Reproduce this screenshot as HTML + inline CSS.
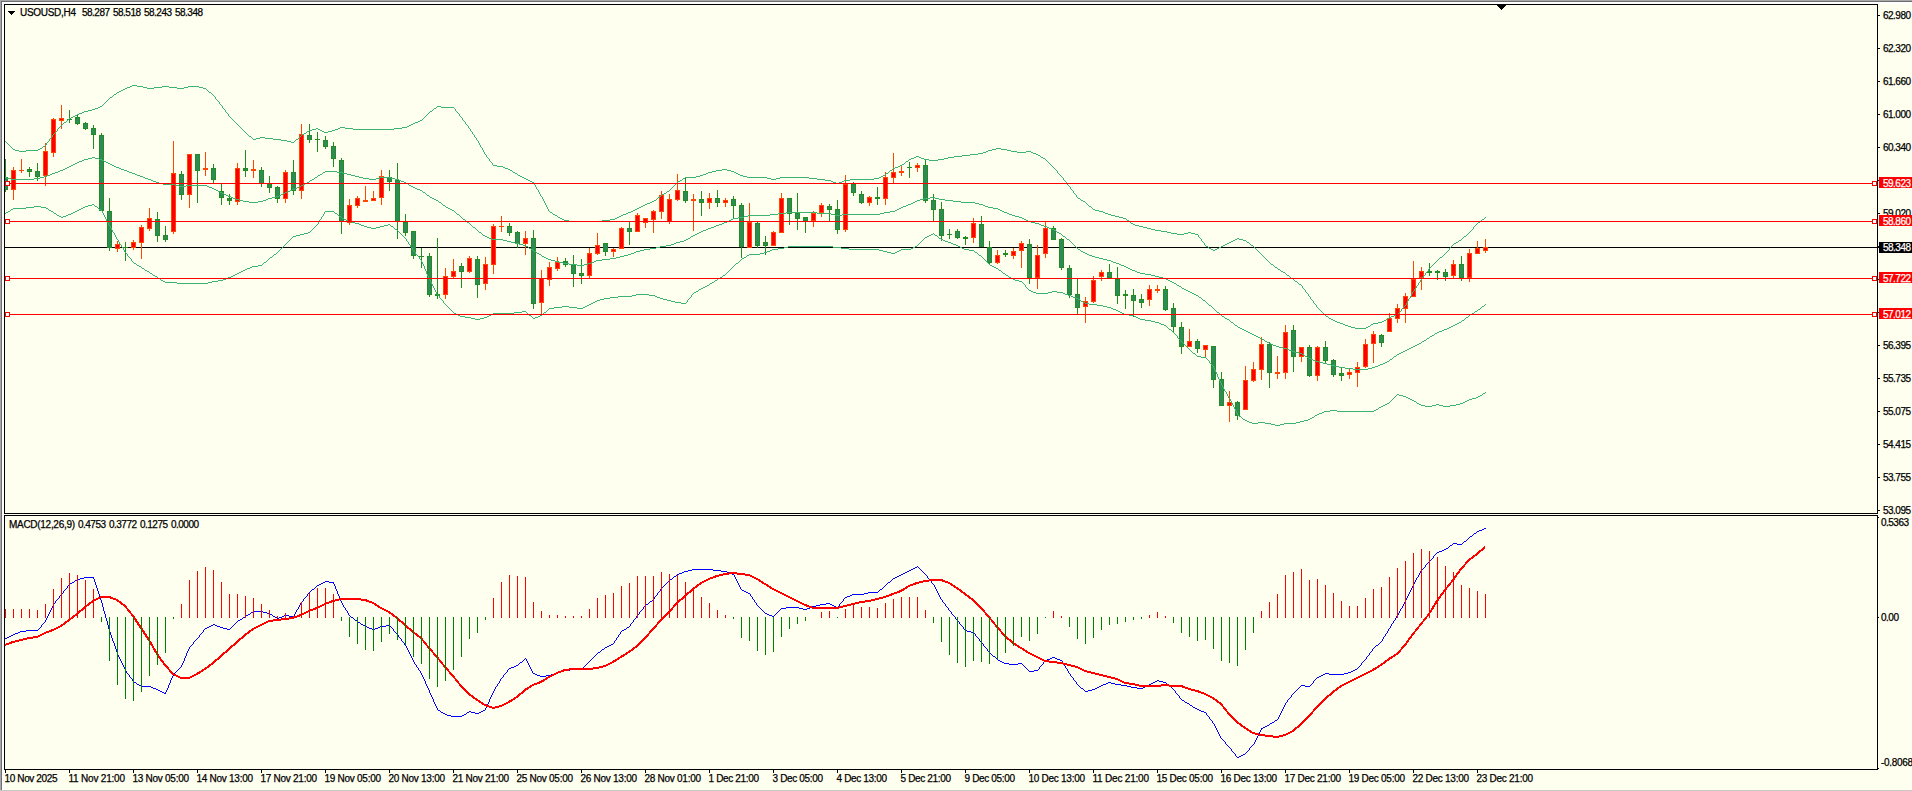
<!DOCTYPE html>
<html lang="en"><head><meta charset="utf-8"><title>USOUSD,H4</title>
<style>html,body{margin:0;padding:0;background:#FFFFF0;overflow:hidden}svg{display:block}text{font-family:"Liberation Sans",Arial,sans-serif;font-size:10px;fill:#000;stroke:#000;stroke-width:.25px}</style>
</head><body>
<svg width="1912" height="791" viewBox="0 0 1912 791">
<rect x="0" y="0" width="1912" height="791" fill="#FFFFF0"/>
<g shape-rendering="crispEdges">
<rect x="0" y="0" width="1912" height="1" fill="#A8A8A8"/>
<rect x="0" y="1" width="1912" height="1" fill="#6E6E6E"/>
<rect x="2" y="2" width="1910" height="2" fill="#FFFFFF"/>
<rect x="0" y="0" width="1" height="791" fill="#A8A8A8"/>
<rect x="1" y="1" width="1" height="789" fill="#6E6E6E"/>
<rect x="2" y="2" width="2" height="788" fill="#FFFFFF"/>
<rect x="0" y="790" width="1912" height="1" fill="#C8C8C8"/>
<rect x="4" y="4" width="1874" height="1" fill="#000"/>
<rect x="4" y="4" width="1" height="766" fill="#000"/>
<rect x="1877" y="4" width="1" height="766" fill="#000"/>
<rect x="4" y="513" width="1874" height="1" fill="#000"/>
<rect x="4" y="514" width="1874" height="1" fill="#FFFFF0"/>
<rect x="4" y="515" width="1874" height="1" fill="#000"/>
<rect x="4" y="769" width="1874" height="1" fill="#000"/>
</g>
<clipPath id="cm"><rect x="5" y="5" width="1872" height="508"/></clipPath>
<clipPath id="cs"><rect x="5" y="516" width="1872" height="253"/></clipPath>
<g clip-path="url(#cm)">
<rect x="5" y="247" width="1872" height="1" fill="#000" shape-rendering="crispEdges"/>
<g shape-rendering="crispEdges">
<rect x="5" y="159" width="1" height="33" fill="#228B22"/>
<rect x="3" y="177" width="5" height="13" fill="#228B22"/>
<rect x="4" y="178" width="3" height="11" fill="#2E8B57"/>
<rect x="13" y="167" width="1" height="33" fill="#FF4500"/>
<rect x="11" y="170" width="5" height="20" fill="#FF4500"/>
<rect x="12" y="171" width="3" height="18" fill="#FF0000"/>
<rect x="21" y="159" width="1" height="14" fill="#FF4500"/>
<rect x="19" y="170" width="5" height="1" fill="#FF4500"/>
<rect x="29" y="167" width="1" height="10" fill="#228B22"/>
<rect x="27" y="169" width="5" height="3" fill="#228B22"/>
<rect x="28" y="170" width="3" height="1" fill="#2E8B57"/>
<rect x="37" y="163" width="1" height="18" fill="#228B22"/>
<rect x="35" y="171" width="5" height="6" fill="#228B22"/>
<rect x="36" y="172" width="3" height="4" fill="#2E8B57"/>
<rect x="45" y="143" width="1" height="43" fill="#FF4500"/>
<rect x="43" y="151" width="5" height="25" fill="#FF4500"/>
<rect x="44" y="152" width="3" height="23" fill="#FF0000"/>
<rect x="53" y="118" width="1" height="39" fill="#FF4500"/>
<rect x="51" y="119" width="5" height="34" fill="#FF4500"/>
<rect x="52" y="120" width="3" height="32" fill="#FF0000"/>
<rect x="61" y="105" width="1" height="24" fill="#FF4500"/>
<rect x="59" y="118" width="5" height="3" fill="#FF4500"/>
<rect x="60" y="119" width="3" height="1" fill="#FF0000"/>
<rect x="69" y="110" width="1" height="13" fill="#228B22"/>
<rect x="67" y="119" width="5" height="1" fill="#228B22"/>
<rect x="77" y="114" width="1" height="11" fill="#228B22"/>
<rect x="75" y="117" width="5" height="7" fill="#228B22"/>
<rect x="76" y="118" width="3" height="5" fill="#2E8B57"/>
<rect x="85" y="122" width="1" height="8" fill="#228B22"/>
<rect x="83" y="123" width="5" height="6" fill="#228B22"/>
<rect x="84" y="124" width="3" height="4" fill="#2E8B57"/>
<rect x="93" y="125" width="1" height="24" fill="#228B22"/>
<rect x="91" y="128" width="5" height="7" fill="#228B22"/>
<rect x="92" y="129" width="3" height="5" fill="#2E8B57"/>
<rect x="101" y="133" width="1" height="78" fill="#228B22"/>
<rect x="99" y="135" width="5" height="76" fill="#228B22"/>
<rect x="100" y="136" width="3" height="74" fill="#2E8B57"/>
<rect x="109" y="198" width="1" height="53" fill="#228B22"/>
<rect x="107" y="211" width="5" height="37" fill="#228B22"/>
<rect x="108" y="212" width="3" height="35" fill="#2E8B57"/>
<rect x="117" y="241" width="1" height="11" fill="#FF4500"/>
<rect x="115" y="244" width="5" height="5" fill="#FF4500"/>
<rect x="116" y="245" width="3" height="3" fill="#FF0000"/>
<rect x="125" y="242" width="1" height="19" fill="#228B22"/>
<rect x="123" y="247" width="5" height="1" fill="#228B22"/>
<rect x="133" y="240" width="1" height="10" fill="#FF4500"/>
<rect x="131" y="242" width="5" height="6" fill="#FF4500"/>
<rect x="132" y="243" width="3" height="4" fill="#FF0000"/>
<rect x="141" y="225" width="1" height="34" fill="#FF4500"/>
<rect x="139" y="227" width="5" height="16" fill="#FF4500"/>
<rect x="140" y="228" width="3" height="14" fill="#FF0000"/>
<rect x="149" y="208" width="1" height="23" fill="#FF4500"/>
<rect x="147" y="218" width="5" height="11" fill="#FF4500"/>
<rect x="148" y="219" width="3" height="9" fill="#FF0000"/>
<rect x="157" y="212" width="1" height="30" fill="#228B22"/>
<rect x="155" y="219" width="5" height="17" fill="#228B22"/>
<rect x="156" y="220" width="3" height="15" fill="#2E8B57"/>
<rect x="165" y="226" width="1" height="16" fill="#228B22"/>
<rect x="163" y="235" width="5" height="5" fill="#228B22"/>
<rect x="164" y="236" width="3" height="3" fill="#2E8B57"/>
<rect x="173" y="141" width="1" height="93" fill="#FF4500"/>
<rect x="171" y="173" width="5" height="59" fill="#FF4500"/>
<rect x="172" y="174" width="3" height="57" fill="#FF0000"/>
<rect x="181" y="171" width="1" height="29" fill="#228B22"/>
<rect x="179" y="174" width="5" height="21" fill="#228B22"/>
<rect x="180" y="175" width="3" height="19" fill="#2E8B57"/>
<rect x="189" y="154" width="1" height="54" fill="#FF4500"/>
<rect x="187" y="154" width="5" height="41" fill="#FF4500"/>
<rect x="188" y="155" width="3" height="39" fill="#FF0000"/>
<rect x="197" y="154" width="1" height="49" fill="#228B22"/>
<rect x="195" y="154" width="5" height="17" fill="#228B22"/>
<rect x="196" y="155" width="3" height="15" fill="#2E8B57"/>
<rect x="205" y="152" width="1" height="24" fill="#FF4500"/>
<rect x="203" y="168" width="5" height="2" fill="#FF4500"/>
<rect x="213" y="164" width="1" height="19" fill="#228B22"/>
<rect x="211" y="168" width="5" height="12" fill="#228B22"/>
<rect x="212" y="169" width="3" height="10" fill="#2E8B57"/>
<rect x="221" y="184" width="1" height="21" fill="#228B22"/>
<rect x="219" y="191" width="5" height="7" fill="#228B22"/>
<rect x="220" y="192" width="3" height="5" fill="#2E8B57"/>
<rect x="229" y="194" width="1" height="11" fill="#228B22"/>
<rect x="227" y="198" width="5" height="3" fill="#228B22"/>
<rect x="228" y="199" width="3" height="1" fill="#2E8B57"/>
<rect x="237" y="163" width="1" height="42" fill="#FF4500"/>
<rect x="235" y="168" width="5" height="34" fill="#FF4500"/>
<rect x="236" y="169" width="3" height="32" fill="#FF0000"/>
<rect x="245" y="150" width="1" height="27" fill="#228B22"/>
<rect x="243" y="168" width="5" height="3" fill="#228B22"/>
<rect x="244" y="169" width="3" height="1" fill="#2E8B57"/>
<rect x="253" y="160" width="1" height="18" fill="#FF4500"/>
<rect x="251" y="169" width="5" height="2" fill="#FF4500"/>
<rect x="261" y="167" width="1" height="20" fill="#228B22"/>
<rect x="259" y="170" width="5" height="14" fill="#228B22"/>
<rect x="260" y="171" width="3" height="12" fill="#2E8B57"/>
<rect x="269" y="176" width="1" height="17" fill="#228B22"/>
<rect x="267" y="184" width="5" height="4" fill="#228B22"/>
<rect x="268" y="185" width="3" height="2" fill="#2E8B57"/>
<rect x="277" y="186" width="1" height="17" fill="#228B22"/>
<rect x="275" y="187" width="5" height="12" fill="#228B22"/>
<rect x="276" y="188" width="3" height="10" fill="#2E8B57"/>
<rect x="285" y="170" width="1" height="33" fill="#FF4500"/>
<rect x="283" y="172" width="5" height="27" fill="#FF4500"/>
<rect x="284" y="173" width="3" height="25" fill="#FF0000"/>
<rect x="293" y="160" width="1" height="35" fill="#228B22"/>
<rect x="291" y="172" width="5" height="19" fill="#228B22"/>
<rect x="292" y="173" width="3" height="17" fill="#2E8B57"/>
<rect x="301" y="124" width="1" height="75" fill="#FF4500"/>
<rect x="299" y="134" width="5" height="57" fill="#FF4500"/>
<rect x="300" y="135" width="3" height="55" fill="#FF0000"/>
<rect x="309" y="124" width="1" height="19" fill="#228B22"/>
<rect x="307" y="135" width="5" height="5" fill="#228B22"/>
<rect x="308" y="136" width="3" height="3" fill="#2E8B57"/>
<rect x="317" y="132" width="1" height="20" fill="#228B22"/>
<rect x="315" y="139" width="5" height="1" fill="#228B22"/>
<rect x="325" y="136" width="1" height="13" fill="#228B22"/>
<rect x="323" y="140" width="5" height="7" fill="#228B22"/>
<rect x="324" y="141" width="3" height="5" fill="#2E8B57"/>
<rect x="333" y="142" width="1" height="25" fill="#228B22"/>
<rect x="331" y="146" width="5" height="13" fill="#228B22"/>
<rect x="332" y="147" width="3" height="11" fill="#2E8B57"/>
<rect x="341" y="158" width="1" height="76" fill="#228B22"/>
<rect x="339" y="160" width="5" height="62" fill="#228B22"/>
<rect x="340" y="161" width="3" height="60" fill="#2E8B57"/>
<rect x="349" y="199" width="1" height="26" fill="#FF4500"/>
<rect x="347" y="205" width="5" height="18" fill="#FF4500"/>
<rect x="348" y="206" width="3" height="16" fill="#FF0000"/>
<rect x="357" y="196" width="1" height="12" fill="#FF4500"/>
<rect x="355" y="198" width="5" height="8" fill="#FF4500"/>
<rect x="356" y="199" width="3" height="6" fill="#FF0000"/>
<rect x="365" y="186" width="1" height="16" fill="#FF4500"/>
<rect x="363" y="200" width="5" height="2" fill="#FF4500"/>
<rect x="373" y="191" width="1" height="10" fill="#FF4500"/>
<rect x="371" y="198" width="5" height="3" fill="#FF4500"/>
<rect x="372" y="199" width="3" height="1" fill="#FF0000"/>
<rect x="381" y="170" width="1" height="35" fill="#FF4500"/>
<rect x="379" y="176" width="5" height="22" fill="#FF4500"/>
<rect x="380" y="177" width="3" height="20" fill="#FF0000"/>
<rect x="389" y="170" width="1" height="21" fill="#228B22"/>
<rect x="387" y="177" width="5" height="5" fill="#228B22"/>
<rect x="388" y="178" width="3" height="3" fill="#2E8B57"/>
<rect x="397" y="163" width="1" height="76" fill="#228B22"/>
<rect x="395" y="180" width="5" height="42" fill="#228B22"/>
<rect x="396" y="181" width="3" height="40" fill="#2E8B57"/>
<rect x="405" y="214" width="1" height="22" fill="#228B22"/>
<rect x="403" y="222" width="5" height="11" fill="#228B22"/>
<rect x="404" y="223" width="3" height="9" fill="#2E8B57"/>
<rect x="413" y="231" width="1" height="28" fill="#228B22"/>
<rect x="411" y="231" width="5" height="25" fill="#228B22"/>
<rect x="412" y="232" width="3" height="23" fill="#2E8B57"/>
<rect x="421" y="248" width="1" height="20" fill="#228B22"/>
<rect x="419" y="256" width="5" height="1" fill="#228B22"/>
<rect x="429" y="253" width="1" height="44" fill="#228B22"/>
<rect x="427" y="256" width="5" height="39" fill="#228B22"/>
<rect x="428" y="257" width="3" height="37" fill="#2E8B57"/>
<rect x="437" y="238" width="1" height="61" fill="#228B22"/>
<rect x="435" y="294" width="5" height="2" fill="#228B22"/>
<rect x="445" y="268" width="1" height="31" fill="#FF4500"/>
<rect x="443" y="276" width="5" height="19" fill="#FF4500"/>
<rect x="444" y="277" width="3" height="17" fill="#FF0000"/>
<rect x="453" y="259" width="1" height="19" fill="#FF4500"/>
<rect x="451" y="271" width="5" height="6" fill="#FF4500"/>
<rect x="452" y="272" width="3" height="4" fill="#FF0000"/>
<rect x="461" y="263" width="1" height="25" fill="#228B22"/>
<rect x="459" y="266" width="5" height="6" fill="#228B22"/>
<rect x="460" y="267" width="3" height="4" fill="#2E8B57"/>
<rect x="469" y="256" width="1" height="17" fill="#FF4500"/>
<rect x="467" y="258" width="5" height="14" fill="#FF4500"/>
<rect x="468" y="259" width="3" height="12" fill="#FF0000"/>
<rect x="477" y="256" width="1" height="42" fill="#228B22"/>
<rect x="475" y="259" width="5" height="26" fill="#228B22"/>
<rect x="476" y="260" width="3" height="24" fill="#2E8B57"/>
<rect x="485" y="257" width="1" height="33" fill="#FF4500"/>
<rect x="483" y="264" width="5" height="20" fill="#FF4500"/>
<rect x="484" y="265" width="3" height="18" fill="#FF0000"/>
<rect x="493" y="224" width="1" height="50" fill="#FF4500"/>
<rect x="491" y="226" width="5" height="39" fill="#FF4500"/>
<rect x="492" y="227" width="3" height="37" fill="#FF0000"/>
<rect x="501" y="216" width="1" height="16" fill="#FF4500"/>
<rect x="499" y="226" width="5" height="1" fill="#FF4500"/>
<rect x="509" y="223" width="1" height="13" fill="#228B22"/>
<rect x="507" y="226" width="5" height="7" fill="#228B22"/>
<rect x="508" y="227" width="3" height="5" fill="#2E8B57"/>
<rect x="517" y="231" width="1" height="17" fill="#228B22"/>
<rect x="515" y="232" width="5" height="12" fill="#228B22"/>
<rect x="516" y="233" width="3" height="10" fill="#2E8B57"/>
<rect x="525" y="231" width="1" height="24" fill="#FF4500"/>
<rect x="523" y="238" width="5" height="6" fill="#FF4500"/>
<rect x="524" y="239" width="3" height="4" fill="#FF0000"/>
<rect x="533" y="230" width="1" height="79" fill="#228B22"/>
<rect x="531" y="238" width="5" height="66" fill="#228B22"/>
<rect x="532" y="239" width="3" height="64" fill="#2E8B57"/>
<rect x="541" y="270" width="1" height="44" fill="#FF4500"/>
<rect x="539" y="278" width="5" height="25" fill="#FF4500"/>
<rect x="540" y="279" width="3" height="23" fill="#FF0000"/>
<rect x="549" y="262" width="1" height="24" fill="#FF4500"/>
<rect x="547" y="267" width="5" height="13" fill="#FF4500"/>
<rect x="548" y="268" width="3" height="11" fill="#FF0000"/>
<rect x="557" y="257" width="1" height="14" fill="#FF4500"/>
<rect x="555" y="262" width="5" height="7" fill="#FF4500"/>
<rect x="556" y="263" width="3" height="5" fill="#FF0000"/>
<rect x="565" y="258" width="1" height="9" fill="#228B22"/>
<rect x="563" y="261" width="5" height="4" fill="#228B22"/>
<rect x="564" y="262" width="3" height="2" fill="#2E8B57"/>
<rect x="573" y="255" width="1" height="32" fill="#228B22"/>
<rect x="571" y="265" width="5" height="9" fill="#228B22"/>
<rect x="572" y="266" width="3" height="7" fill="#2E8B57"/>
<rect x="581" y="259" width="1" height="25" fill="#228B22"/>
<rect x="579" y="273" width="5" height="3" fill="#228B22"/>
<rect x="580" y="274" width="3" height="1" fill="#2E8B57"/>
<rect x="589" y="248" width="1" height="30" fill="#FF4500"/>
<rect x="587" y="253" width="5" height="23" fill="#FF4500"/>
<rect x="588" y="254" width="3" height="21" fill="#FF0000"/>
<rect x="597" y="233" width="1" height="22" fill="#FF4500"/>
<rect x="595" y="245" width="5" height="9" fill="#FF4500"/>
<rect x="596" y="246" width="3" height="7" fill="#FF0000"/>
<rect x="605" y="243" width="1" height="13" fill="#228B22"/>
<rect x="603" y="243" width="5" height="9" fill="#228B22"/>
<rect x="604" y="244" width="3" height="7" fill="#2E8B57"/>
<rect x="613" y="248" width="1" height="9" fill="#FF4500"/>
<rect x="611" y="249" width="5" height="3" fill="#FF4500"/>
<rect x="612" y="250" width="3" height="1" fill="#FF0000"/>
<rect x="621" y="227" width="1" height="22" fill="#FF4500"/>
<rect x="619" y="228" width="5" height="21" fill="#FF4500"/>
<rect x="620" y="229" width="3" height="19" fill="#FF0000"/>
<rect x="629" y="222" width="1" height="23" fill="#228B22"/>
<rect x="627" y="228" width="5" height="4" fill="#228B22"/>
<rect x="628" y="229" width="3" height="2" fill="#2E8B57"/>
<rect x="637" y="213" width="1" height="19" fill="#FF4500"/>
<rect x="635" y="215" width="5" height="17" fill="#FF4500"/>
<rect x="636" y="216" width="3" height="15" fill="#FF0000"/>
<rect x="645" y="218" width="1" height="10" fill="#FF4500"/>
<rect x="643" y="218" width="5" height="5" fill="#FF4500"/>
<rect x="644" y="219" width="3" height="3" fill="#FF0000"/>
<rect x="653" y="210" width="1" height="23" fill="#FF4500"/>
<rect x="651" y="211" width="5" height="9" fill="#FF4500"/>
<rect x="652" y="212" width="3" height="7" fill="#FF0000"/>
<rect x="661" y="191" width="1" height="28" fill="#FF4500"/>
<rect x="659" y="195" width="5" height="17" fill="#FF4500"/>
<rect x="660" y="196" width="3" height="15" fill="#FF0000"/>
<rect x="669" y="194" width="1" height="30" fill="#FF4500"/>
<rect x="667" y="199" width="5" height="23" fill="#FF4500"/>
<rect x="668" y="200" width="3" height="21" fill="#FF0000"/>
<rect x="677" y="174" width="1" height="27" fill="#FF4500"/>
<rect x="675" y="190" width="5" height="10" fill="#FF4500"/>
<rect x="676" y="191" width="3" height="8" fill="#FF0000"/>
<rect x="685" y="178" width="1" height="25" fill="#228B22"/>
<rect x="683" y="191" width="5" height="10" fill="#228B22"/>
<rect x="684" y="192" width="3" height="8" fill="#2E8B57"/>
<rect x="693" y="194" width="1" height="37" fill="#FF4500"/>
<rect x="691" y="199" width="5" height="2" fill="#FF4500"/>
<rect x="701" y="191" width="1" height="25" fill="#228B22"/>
<rect x="699" y="199" width="5" height="4" fill="#228B22"/>
<rect x="700" y="200" width="3" height="2" fill="#2E8B57"/>
<rect x="709" y="193" width="1" height="16" fill="#FF4500"/>
<rect x="707" y="198" width="5" height="5" fill="#FF4500"/>
<rect x="708" y="199" width="3" height="3" fill="#FF0000"/>
<rect x="717" y="190" width="1" height="17" fill="#228B22"/>
<rect x="715" y="198" width="5" height="5" fill="#228B22"/>
<rect x="716" y="199" width="3" height="3" fill="#2E8B57"/>
<rect x="725" y="198" width="1" height="9" fill="#FF4500"/>
<rect x="723" y="200" width="5" height="3" fill="#FF4500"/>
<rect x="724" y="201" width="3" height="1" fill="#FF0000"/>
<rect x="733" y="196" width="1" height="22" fill="#228B22"/>
<rect x="731" y="199" width="5" height="7" fill="#228B22"/>
<rect x="732" y="200" width="3" height="5" fill="#2E8B57"/>
<rect x="741" y="203" width="1" height="55" fill="#228B22"/>
<rect x="739" y="205" width="5" height="42" fill="#228B22"/>
<rect x="740" y="206" width="3" height="40" fill="#2E8B57"/>
<rect x="749" y="203" width="1" height="45" fill="#FF4500"/>
<rect x="747" y="222" width="5" height="26" fill="#FF4500"/>
<rect x="748" y="223" width="3" height="24" fill="#FF0000"/>
<rect x="757" y="222" width="1" height="26" fill="#228B22"/>
<rect x="755" y="223" width="5" height="23" fill="#228B22"/>
<rect x="756" y="224" width="3" height="21" fill="#2E8B57"/>
<rect x="765" y="236" width="1" height="19" fill="#228B22"/>
<rect x="763" y="242" width="5" height="4" fill="#228B22"/>
<rect x="764" y="243" width="3" height="2" fill="#2E8B57"/>
<rect x="773" y="231" width="1" height="15" fill="#FF4500"/>
<rect x="771" y="232" width="5" height="14" fill="#FF4500"/>
<rect x="772" y="233" width="3" height="12" fill="#FF0000"/>
<rect x="781" y="193" width="1" height="40" fill="#FF4500"/>
<rect x="779" y="198" width="5" height="35" fill="#FF4500"/>
<rect x="780" y="199" width="3" height="33" fill="#FF0000"/>
<rect x="789" y="198" width="1" height="27" fill="#228B22"/>
<rect x="787" y="198" width="5" height="16" fill="#228B22"/>
<rect x="788" y="199" width="3" height="14" fill="#2E8B57"/>
<rect x="797" y="193" width="1" height="37" fill="#228B22"/>
<rect x="795" y="213" width="5" height="6" fill="#228B22"/>
<rect x="796" y="214" width="3" height="4" fill="#2E8B57"/>
<rect x="805" y="217" width="1" height="16" fill="#228B22"/>
<rect x="803" y="217" width="5" height="4" fill="#228B22"/>
<rect x="804" y="218" width="3" height="2" fill="#2E8B57"/>
<rect x="813" y="211" width="1" height="16" fill="#FF4500"/>
<rect x="811" y="213" width="5" height="8" fill="#FF4500"/>
<rect x="812" y="214" width="3" height="6" fill="#FF0000"/>
<rect x="821" y="203" width="1" height="14" fill="#FF4500"/>
<rect x="819" y="205" width="5" height="8" fill="#FF4500"/>
<rect x="820" y="206" width="3" height="6" fill="#FF0000"/>
<rect x="829" y="204" width="1" height="17" fill="#228B22"/>
<rect x="827" y="206" width="5" height="4" fill="#228B22"/>
<rect x="828" y="207" width="3" height="2" fill="#2E8B57"/>
<rect x="837" y="200" width="1" height="34" fill="#228B22"/>
<rect x="835" y="209" width="5" height="21" fill="#228B22"/>
<rect x="836" y="210" width="3" height="19" fill="#2E8B57"/>
<rect x="845" y="175" width="1" height="57" fill="#FF4500"/>
<rect x="843" y="184" width="5" height="46" fill="#FF4500"/>
<rect x="844" y="185" width="3" height="44" fill="#FF0000"/>
<rect x="853" y="182" width="1" height="14" fill="#228B22"/>
<rect x="851" y="184" width="5" height="9" fill="#228B22"/>
<rect x="852" y="185" width="3" height="7" fill="#2E8B57"/>
<rect x="861" y="191" width="1" height="13" fill="#228B22"/>
<rect x="859" y="194" width="5" height="9" fill="#228B22"/>
<rect x="860" y="195" width="3" height="7" fill="#2E8B57"/>
<rect x="869" y="196" width="1" height="10" fill="#FF4500"/>
<rect x="867" y="197" width="5" height="6" fill="#FF4500"/>
<rect x="868" y="198" width="3" height="4" fill="#FF0000"/>
<rect x="877" y="187" width="1" height="18" fill="#228B22"/>
<rect x="875" y="197" width="5" height="2" fill="#228B22"/>
<rect x="885" y="172" width="1" height="33" fill="#FF4500"/>
<rect x="883" y="177" width="5" height="22" fill="#FF4500"/>
<rect x="884" y="178" width="3" height="20" fill="#FF0000"/>
<rect x="893" y="153" width="1" height="30" fill="#FF4500"/>
<rect x="891" y="172" width="5" height="6" fill="#FF4500"/>
<rect x="892" y="173" width="3" height="4" fill="#FF0000"/>
<rect x="901" y="166" width="1" height="10" fill="#FF4500"/>
<rect x="899" y="171" width="5" height="2" fill="#FF4500"/>
<rect x="909" y="162" width="1" height="16" fill="#228B22"/>
<rect x="907" y="167" width="5" height="1" fill="#228B22"/>
<rect x="917" y="163" width="1" height="9" fill="#FF4500"/>
<rect x="915" y="165" width="5" height="3" fill="#FF4500"/>
<rect x="916" y="166" width="3" height="1" fill="#FF0000"/>
<rect x="925" y="159" width="1" height="44" fill="#228B22"/>
<rect x="923" y="165" width="5" height="36" fill="#228B22"/>
<rect x="924" y="166" width="3" height="34" fill="#2E8B57"/>
<rect x="933" y="194" width="1" height="27" fill="#228B22"/>
<rect x="931" y="200" width="5" height="10" fill="#228B22"/>
<rect x="932" y="201" width="3" height="8" fill="#2E8B57"/>
<rect x="941" y="202" width="1" height="39" fill="#228B22"/>
<rect x="939" y="209" width="5" height="27" fill="#228B22"/>
<rect x="940" y="210" width="3" height="25" fill="#2E8B57"/>
<rect x="949" y="229" width="1" height="10" fill="#228B22"/>
<rect x="947" y="234" width="5" height="1" fill="#228B22"/>
<rect x="957" y="229" width="1" height="10" fill="#228B22"/>
<rect x="955" y="231" width="5" height="7" fill="#228B22"/>
<rect x="956" y="232" width="3" height="5" fill="#2E8B57"/>
<rect x="965" y="236" width="1" height="9" fill="#228B22"/>
<rect x="963" y="237" width="5" height="2" fill="#228B22"/>
<rect x="973" y="218" width="1" height="25" fill="#FF4500"/>
<rect x="971" y="223" width="5" height="15" fill="#FF4500"/>
<rect x="972" y="224" width="3" height="13" fill="#FF0000"/>
<rect x="981" y="216" width="1" height="31" fill="#228B22"/>
<rect x="979" y="224" width="5" height="23" fill="#228B22"/>
<rect x="980" y="225" width="3" height="21" fill="#2E8B57"/>
<rect x="989" y="241" width="1" height="24" fill="#228B22"/>
<rect x="987" y="247" width="5" height="16" fill="#228B22"/>
<rect x="988" y="248" width="3" height="14" fill="#2E8B57"/>
<rect x="997" y="250" width="1" height="14" fill="#FF4500"/>
<rect x="995" y="255" width="5" height="8" fill="#FF4500"/>
<rect x="996" y="256" width="3" height="6" fill="#FF0000"/>
<rect x="1005" y="250" width="1" height="7" fill="#228B22"/>
<rect x="1003" y="253" width="5" height="2" fill="#228B22"/>
<rect x="1013" y="248" width="1" height="11" fill="#FF4500"/>
<rect x="1011" y="251" width="5" height="5" fill="#FF4500"/>
<rect x="1012" y="252" width="3" height="3" fill="#FF0000"/>
<rect x="1021" y="241" width="1" height="27" fill="#FF4500"/>
<rect x="1019" y="243" width="5" height="8" fill="#FF4500"/>
<rect x="1020" y="244" width="3" height="6" fill="#FF0000"/>
<rect x="1029" y="239" width="1" height="45" fill="#228B22"/>
<rect x="1027" y="244" width="5" height="34" fill="#228B22"/>
<rect x="1028" y="245" width="3" height="32" fill="#2E8B57"/>
<rect x="1037" y="245" width="1" height="44" fill="#FF4500"/>
<rect x="1035" y="255" width="5" height="23" fill="#FF4500"/>
<rect x="1036" y="256" width="3" height="21" fill="#FF0000"/>
<rect x="1045" y="222" width="1" height="36" fill="#FF4500"/>
<rect x="1043" y="228" width="5" height="26" fill="#FF4500"/>
<rect x="1044" y="229" width="3" height="24" fill="#FF0000"/>
<rect x="1053" y="226" width="1" height="14" fill="#228B22"/>
<rect x="1051" y="228" width="5" height="12" fill="#228B22"/>
<rect x="1052" y="229" width="3" height="10" fill="#2E8B57"/>
<rect x="1061" y="238" width="1" height="32" fill="#228B22"/>
<rect x="1059" y="239" width="5" height="29" fill="#228B22"/>
<rect x="1060" y="240" width="3" height="27" fill="#2E8B57"/>
<rect x="1069" y="265" width="1" height="33" fill="#228B22"/>
<rect x="1067" y="268" width="5" height="27" fill="#228B22"/>
<rect x="1068" y="269" width="3" height="25" fill="#2E8B57"/>
<rect x="1077" y="279" width="1" height="35" fill="#228B22"/>
<rect x="1075" y="294" width="5" height="14" fill="#228B22"/>
<rect x="1076" y="295" width="3" height="12" fill="#2E8B57"/>
<rect x="1085" y="297" width="1" height="26" fill="#FF4500"/>
<rect x="1083" y="301" width="5" height="6" fill="#FF4500"/>
<rect x="1084" y="302" width="3" height="4" fill="#FF0000"/>
<rect x="1093" y="276" width="1" height="27" fill="#FF4500"/>
<rect x="1091" y="280" width="5" height="22" fill="#FF4500"/>
<rect x="1092" y="281" width="3" height="20" fill="#FF0000"/>
<rect x="1101" y="270" width="1" height="11" fill="#FF4500"/>
<rect x="1099" y="272" width="5" height="5" fill="#FF4500"/>
<rect x="1100" y="273" width="3" height="3" fill="#FF0000"/>
<rect x="1109" y="264" width="1" height="14" fill="#228B22"/>
<rect x="1107" y="272" width="5" height="6" fill="#228B22"/>
<rect x="1108" y="273" width="3" height="4" fill="#2E8B57"/>
<rect x="1117" y="267" width="1" height="37" fill="#228B22"/>
<rect x="1115" y="279" width="5" height="17" fill="#228B22"/>
<rect x="1116" y="280" width="3" height="15" fill="#2E8B57"/>
<rect x="1125" y="290" width="1" height="19" fill="#228B22"/>
<rect x="1123" y="294" width="5" height="2" fill="#228B22"/>
<rect x="1133" y="289" width="1" height="28" fill="#228B22"/>
<rect x="1131" y="295" width="5" height="6" fill="#228B22"/>
<rect x="1132" y="296" width="3" height="4" fill="#2E8B57"/>
<rect x="1141" y="294" width="1" height="14" fill="#228B22"/>
<rect x="1139" y="299" width="5" height="4" fill="#228B22"/>
<rect x="1140" y="300" width="3" height="2" fill="#2E8B57"/>
<rect x="1149" y="285" width="1" height="21" fill="#FF4500"/>
<rect x="1147" y="289" width="5" height="11" fill="#FF4500"/>
<rect x="1148" y="290" width="3" height="9" fill="#FF0000"/>
<rect x="1157" y="285" width="1" height="8" fill="#FF4500"/>
<rect x="1155" y="289" width="5" height="2" fill="#FF4500"/>
<rect x="1165" y="286" width="1" height="25" fill="#228B22"/>
<rect x="1163" y="289" width="5" height="21" fill="#228B22"/>
<rect x="1164" y="290" width="3" height="19" fill="#2E8B57"/>
<rect x="1173" y="303" width="1" height="29" fill="#228B22"/>
<rect x="1171" y="308" width="5" height="19" fill="#228B22"/>
<rect x="1172" y="309" width="3" height="17" fill="#2E8B57"/>
<rect x="1181" y="322" width="1" height="32" fill="#228B22"/>
<rect x="1179" y="327" width="5" height="20" fill="#228B22"/>
<rect x="1180" y="328" width="3" height="18" fill="#2E8B57"/>
<rect x="1189" y="329" width="1" height="18" fill="#FF4500"/>
<rect x="1187" y="341" width="5" height="6" fill="#FF4500"/>
<rect x="1188" y="342" width="3" height="4" fill="#FF0000"/>
<rect x="1197" y="339" width="1" height="14" fill="#228B22"/>
<rect x="1195" y="341" width="5" height="8" fill="#228B22"/>
<rect x="1196" y="342" width="3" height="6" fill="#2E8B57"/>
<rect x="1205" y="345" width="1" height="12" fill="#FF4500"/>
<rect x="1203" y="345" width="5" height="5" fill="#FF4500"/>
<rect x="1204" y="346" width="3" height="3" fill="#FF0000"/>
<rect x="1213" y="346" width="1" height="42" fill="#228B22"/>
<rect x="1211" y="346" width="5" height="34" fill="#228B22"/>
<rect x="1212" y="347" width="3" height="32" fill="#2E8B57"/>
<rect x="1221" y="372" width="1" height="34" fill="#228B22"/>
<rect x="1219" y="379" width="5" height="27" fill="#228B22"/>
<rect x="1220" y="380" width="3" height="25" fill="#2E8B57"/>
<rect x="1229" y="391" width="1" height="31" fill="#FF4500"/>
<rect x="1227" y="402" width="5" height="4" fill="#FF4500"/>
<rect x="1228" y="403" width="3" height="2" fill="#FF0000"/>
<rect x="1237" y="401" width="1" height="19" fill="#228B22"/>
<rect x="1235" y="402" width="5" height="14" fill="#228B22"/>
<rect x="1236" y="403" width="3" height="12" fill="#2E8B57"/>
<rect x="1245" y="366" width="1" height="44" fill="#FF4500"/>
<rect x="1243" y="380" width="5" height="30" fill="#FF4500"/>
<rect x="1244" y="381" width="3" height="28" fill="#FF0000"/>
<rect x="1253" y="362" width="1" height="20" fill="#FF4500"/>
<rect x="1251" y="369" width="5" height="12" fill="#FF4500"/>
<rect x="1252" y="370" width="3" height="10" fill="#FF0000"/>
<rect x="1261" y="337" width="1" height="43" fill="#FF4500"/>
<rect x="1259" y="344" width="5" height="26" fill="#FF4500"/>
<rect x="1260" y="345" width="3" height="24" fill="#FF0000"/>
<rect x="1269" y="342" width="1" height="46" fill="#228B22"/>
<rect x="1267" y="344" width="5" height="29" fill="#228B22"/>
<rect x="1268" y="345" width="3" height="27" fill="#2E8B57"/>
<rect x="1277" y="356" width="1" height="23" fill="#FF4500"/>
<rect x="1275" y="372" width="5" height="2" fill="#FF4500"/>
<rect x="1285" y="325" width="1" height="54" fill="#FF4500"/>
<rect x="1283" y="332" width="5" height="41" fill="#FF4500"/>
<rect x="1284" y="333" width="3" height="39" fill="#FF0000"/>
<rect x="1293" y="325" width="1" height="47" fill="#228B22"/>
<rect x="1291" y="330" width="5" height="27" fill="#228B22"/>
<rect x="1292" y="331" width="3" height="25" fill="#2E8B57"/>
<rect x="1301" y="347" width="1" height="15" fill="#FF4500"/>
<rect x="1299" y="347" width="5" height="10" fill="#FF4500"/>
<rect x="1300" y="348" width="3" height="8" fill="#FF0000"/>
<rect x="1309" y="345" width="1" height="32" fill="#228B22"/>
<rect x="1307" y="347" width="5" height="29" fill="#228B22"/>
<rect x="1308" y="348" width="3" height="27" fill="#2E8B57"/>
<rect x="1317" y="346" width="1" height="35" fill="#FF4500"/>
<rect x="1315" y="347" width="5" height="29" fill="#FF4500"/>
<rect x="1316" y="348" width="3" height="27" fill="#FF0000"/>
<rect x="1325" y="341" width="1" height="22" fill="#228B22"/>
<rect x="1323" y="347" width="5" height="14" fill="#228B22"/>
<rect x="1324" y="348" width="3" height="12" fill="#2E8B57"/>
<rect x="1333" y="359" width="1" height="18" fill="#228B22"/>
<rect x="1331" y="360" width="5" height="15" fill="#228B22"/>
<rect x="1332" y="361" width="3" height="13" fill="#2E8B57"/>
<rect x="1341" y="368" width="1" height="13" fill="#228B22"/>
<rect x="1339" y="373" width="5" height="3" fill="#228B22"/>
<rect x="1340" y="374" width="3" height="1" fill="#2E8B57"/>
<rect x="1349" y="368" width="1" height="11" fill="#FF4500"/>
<rect x="1347" y="372" width="5" height="3" fill="#FF4500"/>
<rect x="1348" y="373" width="3" height="1" fill="#FF0000"/>
<rect x="1357" y="362" width="1" height="25" fill="#FF4500"/>
<rect x="1355" y="367" width="5" height="6" fill="#FF4500"/>
<rect x="1356" y="368" width="3" height="4" fill="#FF0000"/>
<rect x="1365" y="339" width="1" height="29" fill="#FF4500"/>
<rect x="1363" y="344" width="5" height="23" fill="#FF4500"/>
<rect x="1364" y="345" width="3" height="21" fill="#FF0000"/>
<rect x="1373" y="331" width="1" height="32" fill="#FF4500"/>
<rect x="1371" y="334" width="5" height="10" fill="#FF4500"/>
<rect x="1372" y="335" width="3" height="8" fill="#FF0000"/>
<rect x="1381" y="334" width="1" height="13" fill="#228B22"/>
<rect x="1379" y="335" width="5" height="8" fill="#228B22"/>
<rect x="1380" y="336" width="3" height="6" fill="#2E8B57"/>
<rect x="1389" y="313" width="1" height="19" fill="#FF4500"/>
<rect x="1387" y="318" width="5" height="14" fill="#FF4500"/>
<rect x="1388" y="319" width="3" height="12" fill="#FF0000"/>
<rect x="1397" y="304" width="1" height="19" fill="#FF4500"/>
<rect x="1395" y="308" width="5" height="11" fill="#FF4500"/>
<rect x="1396" y="309" width="3" height="9" fill="#FF0000"/>
<rect x="1405" y="293" width="1" height="30" fill="#FF4500"/>
<rect x="1403" y="296" width="5" height="13" fill="#FF4500"/>
<rect x="1404" y="297" width="3" height="11" fill="#FF0000"/>
<rect x="1413" y="261" width="1" height="36" fill="#FF4500"/>
<rect x="1411" y="279" width="5" height="18" fill="#FF4500"/>
<rect x="1412" y="280" width="3" height="16" fill="#FF0000"/>
<rect x="1421" y="267" width="1" height="23" fill="#FF4500"/>
<rect x="1419" y="271" width="5" height="7" fill="#FF4500"/>
<rect x="1420" y="272" width="3" height="5" fill="#FF0000"/>
<rect x="1429" y="263" width="1" height="13" fill="#228B22"/>
<rect x="1427" y="271" width="5" height="2" fill="#228B22"/>
<rect x="1437" y="270" width="1" height="10" fill="#228B22"/>
<rect x="1435" y="271" width="5" height="2" fill="#228B22"/>
<rect x="1445" y="269" width="1" height="12" fill="#228B22"/>
<rect x="1443" y="272" width="5" height="5" fill="#228B22"/>
<rect x="1444" y="273" width="3" height="3" fill="#2E8B57"/>
<rect x="1453" y="260" width="1" height="18" fill="#FF4500"/>
<rect x="1451" y="264" width="5" height="12" fill="#FF4500"/>
<rect x="1452" y="265" width="3" height="10" fill="#FF0000"/>
<rect x="1461" y="256" width="1" height="25" fill="#228B22"/>
<rect x="1459" y="264" width="5" height="14" fill="#228B22"/>
<rect x="1460" y="265" width="3" height="12" fill="#2E8B57"/>
<rect x="1469" y="249" width="1" height="33" fill="#FF4500"/>
<rect x="1467" y="253" width="5" height="25" fill="#FF4500"/>
<rect x="1468" y="254" width="3" height="23" fill="#FF0000"/>
<rect x="1477" y="241" width="1" height="13" fill="#FF4500"/>
<rect x="1475" y="248" width="5" height="6" fill="#FF4500"/>
<rect x="1476" y="249" width="3" height="4" fill="#FF0000"/>
<rect x="1485" y="239" width="1" height="14" fill="#FF4500"/>
<rect x="1483" y="247" width="5" height="4" fill="#FF4500"/>
<rect x="1484" y="248" width="3" height="2" fill="#FF0000"/>
</g>
<path d="M132 85.5h5M130 86.5h2M137 86.5h6M162 86.5h7M188 86.5h11M127 87.5h3M143 87.5h4M154 87.5h8M169 87.5h8M184 87.5h4M199 87.5h4M125 88.5h2M147 88.5h7M177 88.5h7M203 88.5h3M123 89.5h2M206 89.5h1M121 90.5h2M207 90.5h1M119 91.5h2M208 91.5h1M117 92.5h2M209 92.5h2M116 93.5h1M211 93.5h1M114 94.5h2M212 94.5h1M113 95.5h1M213 95.5h1M112 96.5h1M214 96.5h1M110 97.5h2M215.5 97v2M109 98.5h1M108 99.5h1M216 99.5h1M107 100.5h1M217 100.5h1M106 101.5h1M218 101.5h1M105 102.5h1M219.5 102v2M104 103.5h1M103 104.5h1M220 104.5h1M102 105.5h1M221 105.5h1M100 106.5h2M222.5 106v2M437 106.5h4M98 107.5h2M436 107.5h1M441 107.5h13M95 108.5h3M223 108.5h1M434 108.5h2M454 108.5h1M92 109.5h3M224 109.5h1M433 109.5h1M455.5 109v2M88 110.5h4M225.5 110v2M432 110.5h1M84 111.5h4M430 111.5h2M456 111.5h1M82 112.5h2M226 112.5h1M429 112.5h1M457 112.5h1M79 113.5h3M227 113.5h1M428 113.5h1M458 113.5h1M77 114.5h2M228.5 114v2M427 114.5h1M459.5 114v2M75 115.5h2M426 115.5h1M73 116.5h2M229 116.5h1M425 116.5h1M460 116.5h1M71 117.5h2M230 117.5h1M424 117.5h1M461 117.5h1M69 118.5h2M231 118.5h1M423 118.5h1M462.5 118v2M68 119.5h1M232 119.5h1M422 119.5h1M67 120.5h1M233 120.5h1M420 120.5h2M463 120.5h1M66 121.5h1M234 121.5h1M418 121.5h2M464 121.5h1M64 122.5h2M235 122.5h1M415 122.5h3M465.5 122v2M63 123.5h1M236 123.5h1M413 123.5h2M62 124.5h1M237 124.5h1M411 124.5h2M466 124.5h1M61 125.5h1M238 125.5h1M409 125.5h2M467 125.5h1M60 126.5h1M239 126.5h1M407 126.5h2M468.5 126v2M59 127.5h1M240 127.5h1M340 127.5h5M402 127.5h5M58 128.5h1M241 128.5h1M316 128.5h2M338 128.5h2M345 128.5h8M394 128.5h8M469 128.5h1M57.5 129v2M242 129.5h1M312 129.5h4M318 129.5h2M335 129.5h3M353 129.5h41M470.5 129v2M243 130.5h1M309 130.5h3M320 130.5h2M332 130.5h3M56 131.5h1M244 131.5h1M307 131.5h2M322 131.5h2M328 131.5h4M471 131.5h1M55 132.5h1M245 132.5h1M306 132.5h1M324 132.5h4M472.5 132v2M54 133.5h1M246 133.5h1M304 133.5h2M53 134.5h1M247 134.5h1M302 134.5h2M473 134.5h1M52.5 135v2M248 135.5h1M301 135.5h1M474.5 135v2M249 136.5h2M300 136.5h1M51 137.5h1M251 137.5h1M260 137.5h5M299 137.5h1M475 137.5h1M50 138.5h1M252 138.5h1M256 138.5h4M265 138.5h8M298 138.5h1M476.5 138v2M49.5 139v2M253 139.5h3M273 139.5h8M296 139.5h2M281 140.5h6M295 140.5h1M477 140.5h1M5 141.5h1M48 141.5h1M287 141.5h4M294 141.5h1M478.5 141v2M6 142.5h1M47 142.5h1M291 142.5h3M7 143.5h1M46.5 143v2M479.5 143v2M8 144.5h1M9 145.5h1M45 145.5h1M480.5 145v2M10 146.5h1M43 146.5h2M11 147.5h1M42 147.5h1M481 147.5h1M12 148.5h1M40 148.5h2M482.5 148v2M996 148.5h5M13 149.5h2M38 149.5h2M992 149.5h4M1001 149.5h6M15 150.5h4M26 150.5h12M483.5 150v2M988 150.5h4M1007 150.5h4M19 151.5h7M986 151.5h2M1011 151.5h6M1026 151.5h5M484.5 152v2M983 152.5h3M1017 152.5h9M1031 152.5h2M978 153.5h5M1033 153.5h3M485 154.5h1M970 154.5h8M1036 154.5h2M486.5 155v2M962 155.5h8M1038 155.5h2M916 156.5h3M954 156.5h8M1040 156.5h1M487 157.5h1M914 157.5h2M919 157.5h2M948 157.5h6M1041 157.5h2M488 158.5h1M911 158.5h3M921 158.5h3M944 158.5h4M1043 158.5h2M489.5 159v2M909 159.5h2M924 159.5h5M938 159.5h6M1045 159.5h1M908 160.5h1M929 160.5h9M1046 160.5h1M490 161.5h1M906 161.5h2M1047 161.5h1M491 162.5h1M905 162.5h1M1048 162.5h1M492.5 163v2M904 163.5h1M1049 163.5h1M902 164.5h2M1050 164.5h1M493 165.5h4M900 165.5h2M1051 165.5h1M497 166.5h6M898 166.5h2M1052 166.5h1M503 167.5h2M895 167.5h3M1053 167.5h1M505 168.5h3M893 168.5h2M1054 168.5h1M508 169.5h2M722 169.5h5M892 169.5h1M1055 169.5h1M510 170.5h2M716 170.5h6M727 170.5h4M890 170.5h2M1056 170.5h1M512 171.5h1M712 171.5h4M731 171.5h3M889 171.5h1M1057.5 171v2M513 172.5h2M708 172.5h4M734 172.5h2M888 172.5h1M515 173.5h2M706 173.5h2M736 173.5h2M886 173.5h2M1058 173.5h1M517 174.5h1M703 174.5h3M738 174.5h2M885 174.5h1M1059 174.5h1M518 175.5h2M700 175.5h3M740 175.5h3M883 175.5h2M1060 175.5h1M520 176.5h2M696 176.5h4M743 176.5h4M881 176.5h2M1061 176.5h1M522 177.5h2M685 177.5h11M747 177.5h20M780 177.5h29M879 177.5h2M1062 177.5h1M524 178.5h2M683 178.5h2M767 178.5h4M776 178.5h4M809 178.5h8M874 178.5h5M1063.5 178v2M526 179.5h2M682 179.5h1M771 179.5h5M817 179.5h8M850 179.5h24M528 180.5h2M680 180.5h2M825 180.5h6M844 180.5h6M1064 180.5h1M530 181.5h2M678 181.5h2M831 181.5h2M842 181.5h2M1065 181.5h1M532 182.5h2M677 182.5h1M833 182.5h3M839 182.5h3M1066 182.5h1M534.5 183v2M676 183.5h1M836 183.5h3M1067.5 183v2M675 184.5h1M535.5 185v2M674 185.5h1M1068 185.5h1M673 186.5h1M1069 186.5h1M536.5 187v2M672 187.5h1M1070.5 187v2M671 188.5h1M537 189.5h1M670 189.5h1M1071 189.5h1M538.5 190v2M669 190.5h1M1072 190.5h1M667 191.5h2M1073.5 191v2M539.5 192v2M666 192.5h1M664 193.5h2M1074 193.5h1M540.5 194v2M662 194.5h2M1075 194.5h1M661 195.5h1M1076.5 195v2M541 196.5h1M660 196.5h1M542.5 197v2M658 197.5h2M1077 197.5h1M657 198.5h1M1078 198.5h2M543.5 199v2M656 199.5h1M1080 199.5h1M654 200.5h2M1081 200.5h2M544.5 201v2M652 201.5h2M1083 201.5h2M650 202.5h2M1085 202.5h1M545.5 203v2M647 203.5h3M1086 203.5h1M645 204.5h2M1087 204.5h1M546.5 205v2M643 205.5h2M1088 205.5h1M641 206.5h2M1089 206.5h2M547.5 207v2M639 207.5h2M1091 207.5h1M637 208.5h2M1092 208.5h1M548.5 209v2M635 209.5h2M1093 209.5h2M633 210.5h2M1095 210.5h4M549 211.5h1M631 211.5h2M1099 211.5h4M550 212.5h2M628 212.5h3M1103 212.5h2M552 213.5h1M626 213.5h2M1105 213.5h3M553 214.5h2M623 214.5h3M1108 214.5h3M555 215.5h2M621 215.5h2M1111 215.5h4M557 216.5h1M619 216.5h2M1115 216.5h4M558 217.5h2M617 217.5h2M1119 217.5h4M1485 217.5h1M560 218.5h2M615 218.5h2M1123 218.5h3M1484 218.5h1M562 219.5h2M610 219.5h5M1126 219.5h1M1482 219.5h2M564 220.5h5M602 220.5h8M1127 220.5h2M1481 220.5h1M569 221.5h33M1129 221.5h1M1480 221.5h1M1130 222.5h1M1478 222.5h2M1131 223.5h2M1477 223.5h1M1133 224.5h2M1476 224.5h1M1135 225.5h4M1475 225.5h1M1139 226.5h4M1474 226.5h1M1143 227.5h4M1473.5 227v2M1147 228.5h4M1151 229.5h4M1472 229.5h1M1155 230.5h6M1471 230.5h1M1161 231.5h6M1470 231.5h1M1167 232.5h4M1188 232.5h3M1469 232.5h1M1171 233.5h6M1184 233.5h4M1191 233.5h4M1468 233.5h1M1177 234.5h7M1195 234.5h3M1467 234.5h1M1198.5 235v2M1466 235.5h1M1464 236.5h2M1199 237.5h1M1463 237.5h1M1200 238.5h1M1237 238.5h2M1462 238.5h1M1201.5 239v2M1235 239.5h2M1239 239.5h4M1461 239.5h1M1233 240.5h2M1243 240.5h3M1459 240.5h2M1202 241.5h1M1231 241.5h2M1246 241.5h1M1458 241.5h1M1203 242.5h1M1229 242.5h2M1247 242.5h2M1456 242.5h2M1204.5 243v2M1227 243.5h2M1249 243.5h1M1454 243.5h2M1225 244.5h2M1250 244.5h1M1453 244.5h1M1205 245.5h1M1223 245.5h2M1251 245.5h2M1452 245.5h1M1206 246.5h2M1221 246.5h2M1253 246.5h1M1451 246.5h1M1208 247.5h1M1219 247.5h2M1254 247.5h1M1450 247.5h1M1209 248.5h2M1217 248.5h2M1255 248.5h1M1449.5 248v2M1211 249.5h2M1215 249.5h2M1256 249.5h1M1213 250.5h2M1257 250.5h1M1448 250.5h1M1258 251.5h1M1447 251.5h1M1259 252.5h1M1446 252.5h1M1260 253.5h1M1445 253.5h1M1261 254.5h1M1444 254.5h1M1262 255.5h1M1443 255.5h1M1263 256.5h1M1442 256.5h1M1264 257.5h1M1440 257.5h2M1265 258.5h1M1439 258.5h1M1266 259.5h1M1438 259.5h1M1267 260.5h1M1437 260.5h1M1268 261.5h1M1436 261.5h1M1269 262.5h1M1435 262.5h1M1270 263.5h1M1434 263.5h1M1271 264.5h2M1433 264.5h1M1273 265.5h1M1432 265.5h1M1274 266.5h1M1431 266.5h1M1275 267.5h2M1430 267.5h1M1277 268.5h1M1429 268.5h1M1278 269.5h2M1428.5 269v2M1280 270.5h1M1281 271.5h2M1427 271.5h1M1283 272.5h2M1426 272.5h1M1285 273.5h1M1425.5 273v2M1286 274.5h1M1287 275.5h2M1424 275.5h1M1289 276.5h1M1423 276.5h1M1290 277.5h1M1422.5 277v2M1291 278.5h2M1293 279.5h1M1421 279.5h1M1294 280.5h1M1420.5 280v2M1295 281.5h2M1297 282.5h1M1419 282.5h1M1298 283.5h1M1418.5 283v2M1299 284.5h2M1301 285.5h1M1417 285.5h1M1302.5 286v2M1416.5 286v2M1303 288.5h1M1415 288.5h1M1304 289.5h1M1414.5 289v2M1305.5 290v2M1413 291.5h1M1306 292.5h1M1412.5 292v2M1307 293.5h1M1308.5 294v2M1411.5 294v2M1309 296.5h1M1410.5 296v2M1310.5 297v2M1409 298.5h1M1311 299.5h1M1408.5 299v2M1312 300.5h1M1313.5 301v2M1407.5 301v2M1314 303.5h1M1406.5 303v2M1315 304.5h1M1316.5 305v2M1405 305.5h1M1404 306.5h1M1317 307.5h1M1403 307.5h1M1318 308.5h1M1402 308.5h1M1319 309.5h1M1401.5 309v2M1320 310.5h1M1321 311.5h1M1400 311.5h1M1322 312.5h1M1399 312.5h1M1323 313.5h1M1398 313.5h1M1324 314.5h1M1396 314.5h2M1325 315.5h1M1394 315.5h2M1326 316.5h2M1391 316.5h3M1328 317.5h1M1389 317.5h2M1329 318.5h2M1387 318.5h2M1331 319.5h2M1386 319.5h1M1333 320.5h2M1384 320.5h2M1335 321.5h2M1382 321.5h2M1337 322.5h3M1378 322.5h4M1340 323.5h3M1373 323.5h5M1343 324.5h2M1371 324.5h2M1345 325.5h3M1370 325.5h1M1348 326.5h3M1368 326.5h2M1351 327.5h4M1366 327.5h2M1355 328.5h11" fill="none" stroke="#3CB371" stroke-width="1" shape-rendering="crispEdges"/>
<path d="M92 157.5h3M88 158.5h4M95 158.5h4M84 159.5h4M99 159.5h3M82 160.5h2M102 160.5h2M79 161.5h3M104 161.5h2M77 162.5h2M106 162.5h2M75 163.5h2M108 163.5h2M73 164.5h2M110 164.5h2M71 165.5h2M112 165.5h2M69 166.5h2M114 166.5h2M67 167.5h2M116 167.5h3M65 168.5h2M119 168.5h2M63 169.5h2M121 169.5h3M60 170.5h3M124 170.5h3M58 171.5h2M127 171.5h2M325 171.5h12M55 172.5h3M129 172.5h3M323 172.5h2M337 172.5h6M52 173.5h3M132 173.5h3M322 173.5h1M343 173.5h4M50 174.5h2M135 174.5h2M320 174.5h2M347 174.5h4M47 175.5h3M137 175.5h3M318 175.5h2M351 175.5h4M44 176.5h3M140 176.5h3M317 176.5h1M355 176.5h4M5 177.5h2M40 177.5h4M143 177.5h2M315 177.5h2M359 177.5h4M380 177.5h11M7 178.5h4M34 178.5h6M145 178.5h3M314 178.5h1M363 178.5h6M376 178.5h4M391 178.5h4M11 179.5h23M148 179.5h3M312 179.5h2M369 179.5h7M395 179.5h4M151 180.5h2M310 180.5h2M399 180.5h2M153 181.5h3M309 181.5h1M401 181.5h3M156 182.5h3M307 182.5h2M404 182.5h2M159 183.5h4M305 183.5h2M406 183.5h2M163 184.5h12M303 184.5h2M408 184.5h1M175 185.5h4M186 185.5h21M301 185.5h2M409 185.5h2M179 186.5h7M207 186.5h2M299 186.5h2M411 186.5h2M209 187.5h3M297 187.5h2M413 187.5h2M212 188.5h2M295 188.5h2M415 188.5h2M214 189.5h2M292 189.5h3M417 189.5h3M216 190.5h2M290 190.5h2M420 190.5h2M218 191.5h2M287 191.5h3M422 191.5h1M220 192.5h2M285 192.5h2M423 192.5h2M222 193.5h2M283 193.5h2M425 193.5h1M224 194.5h2M281 194.5h2M426 194.5h1M226 195.5h2M279 195.5h2M427 195.5h2M228 196.5h3M276 196.5h3M429 196.5h1M231 197.5h2M272 197.5h4M430 197.5h2M930 197.5h5M233 198.5h3M268 198.5h4M432 198.5h2M924 198.5h6M935 198.5h4M236 199.5h3M266 199.5h2M434 199.5h2M920 199.5h4M939 199.5h6M239 200.5h4M263 200.5h3M436 200.5h2M917 200.5h3M945 200.5h8M243 201.5h6M258 201.5h5M438 201.5h1M915 201.5h2M953 201.5h8M249 202.5h9M439 202.5h2M913 202.5h2M961 202.5h14M441 203.5h1M911 203.5h2M975 203.5h4M442 204.5h1M908 204.5h3M979 204.5h4M443 205.5h2M906 205.5h2M983 205.5h2M445 206.5h1M903 206.5h3M985 206.5h3M446 207.5h2M901 207.5h2M988 207.5h5M448 208.5h2M899 208.5h2M993 208.5h5M450 209.5h2M897 209.5h2M998 209.5h2M452 210.5h2M895 210.5h2M1000 210.5h2M454 211.5h1M890 211.5h5M1002 211.5h2M455 212.5h1M786 212.5h31M884 212.5h6M1004 212.5h3M456 213.5h1M778 213.5h8M817 213.5h14M880 213.5h4M1007 213.5h2M457 214.5h2M770 214.5h8M831 214.5h4M842 214.5h38M1009 214.5h3M459 215.5h1M748 215.5h22M835 215.5h7M1012 215.5h3M460 216.5h1M744 216.5h4M1015 216.5h4M461 217.5h1M738 217.5h6M1019 217.5h3M462 218.5h1M733 218.5h5M1022 218.5h2M463 219.5h2M731 219.5h2M1024 219.5h2M465 220.5h1M729 220.5h2M1026 220.5h2M466 221.5h1M727 221.5h2M1028 221.5h3M467 222.5h2M724 222.5h3M1031 222.5h4M469 223.5h1M722 223.5h2M1035 223.5h4M470 224.5h1M719 224.5h3M1039 224.5h2M471 225.5h1M716 225.5h3M1041 225.5h3M472 226.5h1M714 226.5h2M1044 226.5h3M473 227.5h2M711 227.5h3M1047 227.5h2M475 228.5h1M708 228.5h3M1049 228.5h3M476 229.5h1M706 229.5h2M1052 229.5h2M477 230.5h1M703 230.5h3M1054 230.5h2M478 231.5h1M701 231.5h2M1056 231.5h1M479 232.5h2M699 232.5h2M1057 232.5h2M481 233.5h1M697 233.5h2M1059 233.5h2M482 234.5h1M695 234.5h2M1061 234.5h1M483 235.5h2M693 235.5h2M1062 235.5h1M485 236.5h2M691 236.5h2M1063 236.5h2M487 237.5h2M690 237.5h1M1065 237.5h1M489 238.5h3M688 238.5h2M1066 238.5h1M492 239.5h11M686 239.5h2M1067 239.5h2M503 240.5h4M684 240.5h2M1069 240.5h1M507 241.5h4M680 241.5h4M1070 241.5h1M511 242.5h4M676 242.5h4M1071 242.5h1M515 243.5h4M674 243.5h2M1072 243.5h1M519 244.5h4M671 244.5h3M1073 244.5h1M523 245.5h3M666 245.5h5M1074 245.5h1M526 246.5h2M660 246.5h6M1075 246.5h1M528 247.5h1M656 247.5h4M1076 247.5h1M529 248.5h2M650 248.5h6M1077 248.5h1M531 249.5h2M644 249.5h6M1078 249.5h2M533 250.5h1M640 250.5h4M1080 250.5h1M534 251.5h2M636 251.5h4M1081 251.5h2M536 252.5h1M634 252.5h2M1083 252.5h2M537 253.5h2M631 253.5h3M1085 253.5h2M539 254.5h2M628 254.5h3M1087 254.5h2M541 255.5h1M624 255.5h4M1089 255.5h3M542 256.5h2M620 256.5h4M1092 256.5h3M544 257.5h2M616 257.5h4M1095 257.5h4M546 258.5h2M610 258.5h6M1099 258.5h4M548 259.5h3M602 259.5h8M1103 259.5h4M551 260.5h4M596 260.5h6M1107 260.5h4M555 261.5h4M594 261.5h2M1111 261.5h2M559 262.5h4M591 262.5h3M1113 262.5h3M563 263.5h6M588 263.5h3M1116 263.5h3M569 264.5h8M584 264.5h4M1119 264.5h2M577 265.5h7M1121 265.5h3M1124 266.5h2M1126 267.5h2M1128 268.5h2M1130 269.5h2M1132 270.5h3M1135 271.5h2M1137 272.5h3M1140 273.5h5M1145 274.5h6M1151 275.5h4M1155 276.5h4M1159 277.5h4M1163 278.5h3M1166 279.5h2M1168 280.5h2M1170 281.5h2M1172 282.5h2M1174 283.5h2M1176 284.5h1M1177 285.5h2M1179 286.5h2M1181 287.5h1M1182 288.5h2M1184 289.5h2M1186 290.5h2M1188 291.5h2M1190 292.5h2M1192 293.5h2M1194 294.5h2M1196 295.5h2M1198 296.5h1M1199 297.5h2M1201 298.5h1M1202 299.5h1M1203 300.5h2M1205 301.5h1M1206 302.5h1M1207 303.5h1M1208 304.5h1M1485 304.5h1M1209 305.5h2M1484 305.5h1M1211 306.5h1M1482 306.5h2M1212 307.5h1M1481 307.5h1M1213 308.5h1M1480 308.5h1M1214 309.5h1M1478 309.5h2M1215 310.5h1M1477 310.5h1M1216 311.5h1M1475 311.5h2M1217 312.5h2M1474 312.5h1M1219 313.5h1M1472 313.5h2M1220 314.5h1M1470 314.5h2M1221 315.5h1M1469 315.5h1M1222 316.5h2M1468 316.5h1M1224 317.5h1M1466 317.5h2M1225 318.5h2M1465 318.5h1M1227 319.5h2M1464 319.5h1M1229 320.5h1M1462 320.5h2M1230 321.5h1M1461 321.5h1M1231 322.5h2M1459 322.5h2M1233 323.5h1M1457 323.5h2M1234 324.5h1M1455 324.5h2M1235 325.5h2M1453 325.5h2M1237 326.5h1M1451 326.5h2M1238 327.5h2M1449 327.5h2M1240 328.5h2M1447 328.5h2M1242 329.5h2M1444 329.5h3M1244 330.5h2M1442 330.5h2M1246 331.5h2M1439 331.5h3M1248 332.5h2M1437 332.5h2M1250 333.5h2M1435 333.5h2M1252 334.5h2M1434 334.5h1M1254 335.5h2M1432 335.5h2M1256 336.5h2M1430 336.5h2M1258 337.5h2M1429 337.5h1M1260 338.5h2M1427 338.5h2M1262 339.5h2M1426 339.5h1M1264 340.5h1M1424 340.5h2M1265 341.5h2M1422 341.5h2M1267 342.5h2M1421 342.5h1M1269 343.5h2M1419 343.5h2M1271 344.5h2M1417 344.5h2M1273 345.5h3M1415 345.5h2M1276 346.5h3M1413 346.5h2M1279 347.5h4M1411 347.5h2M1283 348.5h4M1409 348.5h2M1287 349.5h2M1407 349.5h2M1289 350.5h3M1405 350.5h2M1292 351.5h3M1403 351.5h2M1295 352.5h4M1401 352.5h2M1299 353.5h3M1399 353.5h2M1302 354.5h2M1397 354.5h2M1304 355.5h1M1396 355.5h1M1305 356.5h2M1394 356.5h2M1307 357.5h2M1393 357.5h1M1309 358.5h2M1392 358.5h1M1311 359.5h2M1390 359.5h2M1313 360.5h3M1389 360.5h1M1316 361.5h3M1387 361.5h2M1319 362.5h4M1385 362.5h2M1323 363.5h4M1383 363.5h2M1327 364.5h4M1380 364.5h3M1331 365.5h4M1378 365.5h2M1335 366.5h4M1375 366.5h3M1339 367.5h6M1372 367.5h3M1345 368.5h8M1368 368.5h4M1353 369.5h15" fill="none" stroke="#3CB371" stroke-width="1" shape-rendering="crispEdges"/>
<path d="M92 204.5h2M88 205.5h4M94 205.5h1M34 206.5h7M85 206.5h3M95 206.5h2M26 207.5h8M41 207.5h5M83 207.5h2M97 207.5h1M13 208.5h13M46 208.5h2M81 208.5h2M98 208.5h1M11 209.5h2M48 209.5h1M79 209.5h2M99 209.5h2M10 210.5h1M49 210.5h2M77 210.5h2M101 210.5h1M8 211.5h2M51 211.5h2M75 211.5h2M102.5 211v2M325 211.5h9M6 212.5h2M53 212.5h1M73 212.5h2M324.5 212v2M334 212.5h1M5 213.5h1M54 213.5h2M71 213.5h2M103.5 213v2M335 213.5h2M56 214.5h1M68 214.5h3M323.5 214v2M337 214.5h1M57 215.5h2M66 215.5h2M104.5 215v2M338 215.5h1M59 216.5h2M63 216.5h3M322 216.5h1M339 216.5h2M61 217.5h2M105.5 217v2M321.5 217v2M341 217.5h1M342 218.5h2M106.5 219v2M320 219.5h1M344 219.5h2M319.5 220v2M346 220.5h2M107.5 221v2M348 221.5h3M318.5 222v2M351 222.5h4M108.5 223v2M355 223.5h4M317 224.5h1M359 224.5h2M388 224.5h2M109 225.5h1M316 225.5h1M361 225.5h3M384 225.5h4M390 225.5h1M110.5 226v2M315 226.5h1M364 226.5h3M380 226.5h4M391 226.5h2M314 227.5h1M367 227.5h4M376 227.5h4M393 227.5h1M111.5 228v2M313 228.5h1M371 228.5h5M394 228.5h1M312 229.5h1M395 229.5h2M112.5 230v2M311 230.5h1M397 230.5h1M310 231.5h1M398 231.5h1M113 232.5h1M308 232.5h2M399 232.5h1M114.5 233v2M304 233.5h4M400 233.5h1M933 233.5h1M300 234.5h4M401 234.5h1M931 234.5h2M934 234.5h1M115.5 235v2M296 235.5h4M402 235.5h1M929 235.5h2M935 235.5h2M293 236.5h3M403 236.5h1M927 236.5h2M937 236.5h1M116.5 237v2M292 237.5h1M404 237.5h1M925 237.5h2M938 237.5h1M291 238.5h1M405 238.5h1M924 238.5h1M939 238.5h2M117 239.5h1M290 239.5h1M406.5 239v2M923 239.5h1M941 239.5h2M118.5 240v2M289 240.5h1M922 240.5h1M943 240.5h2M288 241.5h1M407 241.5h1M921 241.5h1M945 241.5h3M119.5 242v2M287 242.5h1M408.5 242v2M920 242.5h1M948 242.5h3M286 243.5h1M919 243.5h1M951 243.5h2M120 244.5h1M285 244.5h1M409 244.5h1M918 244.5h1M953 244.5h3M121.5 245v2M284 245.5h1M410.5 245v2M917 245.5h1M956 245.5h2M283 246.5h1M788 246.5h45M915 246.5h2M958 246.5h2M122 247.5h1M282 247.5h1M411 247.5h1M784 247.5h4M833 247.5h8M913 247.5h2M960 247.5h2M123.5 248v2M281 248.5h1M412.5 248v2M778 248.5h6M841 248.5h8M911 248.5h2M962 248.5h2M280 249.5h1M772 249.5h6M849 249.5h30M901 249.5h10M964 249.5h5M124.5 250v2M279 250.5h1M413 250.5h1M770 250.5h2M879 250.5h4M899 250.5h2M969 250.5h5M278 251.5h1M414 251.5h1M767 251.5h3M883 251.5h4M897 251.5h2M974 251.5h1M125 252.5h1M277 252.5h1M415.5 252v2M764 252.5h3M887 252.5h4M895 252.5h2M975 252.5h2M126 253.5h1M276 253.5h1M760 253.5h4M891 253.5h4M977 253.5h1M127.5 254v2M274 254.5h2M416 254.5h1M749 254.5h11M978 254.5h1M273 255.5h1M417 255.5h1M747 255.5h2M979 255.5h2M128 256.5h1M272 256.5h1M418 256.5h1M746 256.5h1M981 256.5h1M129 257.5h1M270 257.5h2M419.5 257v2M744 257.5h2M982 257.5h1M130 258.5h1M269 258.5h1M742 258.5h2M983 258.5h1M131.5 259v2M268 259.5h1M420 259.5h1M741 259.5h1M984 259.5h1M267 260.5h1M421.5 260v2M740 260.5h1M985 260.5h1M132 261.5h1M266 261.5h1M739 261.5h1M986 261.5h1M133 262.5h1M264 262.5h2M422.5 262v2M738 262.5h1M987 262.5h1M134 263.5h2M263 263.5h1M736 263.5h2M988 263.5h1M136 264.5h1M262 264.5h1M423.5 264v2M735 264.5h1M989 264.5h1M137 265.5h2M258 265.5h4M734 265.5h1M990 265.5h2M139 266.5h2M252 266.5h6M424.5 266v3M733 266.5h1M992 266.5h2M141 267.5h1M250 267.5h2M732 267.5h1M994 267.5h2M142 268.5h2M247 268.5h3M731 268.5h1M996 268.5h2M144 269.5h1M245 269.5h2M425.5 269v2M730 269.5h1M998 269.5h1M145 270.5h2M243 270.5h2M729 270.5h1M999 270.5h2M147 271.5h2M241 271.5h2M426.5 271v3M728 271.5h1M1001 271.5h1M149 272.5h1M239 272.5h2M727 272.5h1M1002 272.5h1M150 273.5h2M237 273.5h2M726 273.5h1M1003 273.5h2M152 274.5h1M235 274.5h2M427.5 274v2M725 274.5h1M1005 274.5h1M153 275.5h2M233 275.5h2M723 275.5h2M1006 275.5h2M155 276.5h2M231 276.5h2M428.5 276v2M722 276.5h1M1008 276.5h1M157 277.5h1M228 277.5h3M720 277.5h2M1009 277.5h2M158 278.5h2M226 278.5h2M429.5 278v2M718 278.5h2M1011 278.5h2M160 279.5h1M223 279.5h3M717 279.5h1M1013 279.5h2M161 280.5h2M218 280.5h5M430.5 280v2M715 280.5h2M1015 280.5h4M163 281.5h2M212 281.5h6M714 281.5h1M1019 281.5h3M165 282.5h12M208 282.5h4M431.5 282v2M712 282.5h2M1022 282.5h1M177 283.5h31M710 283.5h2M1023 283.5h1M432.5 284v2M709 284.5h1M1024 284.5h1M707 285.5h2M1025.5 285v2M433.5 286v2M705 286.5h2M703 287.5h2M1026 287.5h1M434.5 288v2M701 288.5h2M1027 288.5h1M699 289.5h2M1028 289.5h1M435.5 290v2M698 290.5h1M1029 290.5h2M696 291.5h2M1031 291.5h2M1052 291.5h5M436.5 292v2M694 292.5h2M1033 292.5h3M1048 292.5h4M1057 292.5h6M693 293.5h1M1036 293.5h12M1063 293.5h2M437 294.5h1M636 294.5h13M692 294.5h1M1065 294.5h3M438 295.5h1M632 295.5h4M649 295.5h6M691.5 295v2M1068 295.5h3M439.5 296v2M618 296.5h14M655 296.5h2M1071 296.5h2M610 297.5h8M657 297.5h3M690 297.5h1M1073 297.5h3M440 298.5h1M604 298.5h6M660 298.5h3M689 298.5h1M1076 298.5h2M441 299.5h1M600 299.5h4M663 299.5h4M688 299.5h1M1078 299.5h2M442 300.5h1M597 300.5h3M667 300.5h4M687.5 300v2M1080 300.5h1M443.5 301v2M595 301.5h2M671 301.5h4M1081 301.5h2M593 302.5h2M675 302.5h6M686 302.5h1M1083 302.5h2M444 303.5h1M591 303.5h2M681 303.5h5M1085 303.5h4M445 304.5h1M589 304.5h2M1089 304.5h8M446 305.5h1M587 305.5h2M1097 305.5h6M447 306.5h1M562 306.5h7M585 306.5h2M1103 306.5h4M448 307.5h1M554 307.5h8M569 307.5h8M583 307.5h2M1107 307.5h4M449 308.5h1M549 308.5h5M577 308.5h6M1111 308.5h2M450 309.5h1M548 309.5h1M1113 309.5h3M451 310.5h1M547 310.5h1M1116 310.5h2M452 311.5h1M522 311.5h4M546 311.5h1M1118 311.5h2M453 312.5h1M514 312.5h8M526 312.5h1M544 312.5h2M1120 312.5h2M454 313.5h2M493 313.5h21M527 313.5h1M543 313.5h1M1122 313.5h2M456 314.5h2M491 314.5h2M528 314.5h1M542 314.5h1M1124 314.5h5M458 315.5h2M489 315.5h2M529 315.5h2M540 315.5h2M1129 315.5h5M460 316.5h5M487 316.5h2M531 316.5h1M538 316.5h2M1134 316.5h2M465 317.5h6M484 317.5h3M532 317.5h1M535 317.5h3M1136 317.5h2M471 318.5h4M480 318.5h4M533 318.5h2M1138 318.5h2M475 319.5h5M1140 319.5h5M1145 320.5h6M1151 321.5h4M1155 322.5h4M1159 323.5h2M1161 324.5h3M1164 325.5h2M1166 326.5h1M1167 327.5h1M1168 328.5h1M1169 329.5h2M1171 330.5h1M1172 331.5h1M1173 332.5h1M1174 333.5h1M1175 334.5h1M1176 335.5h1M1177.5 336v2M1178 338.5h1M1179 339.5h1M1180 340.5h1M1181 341.5h1M1182 342.5h1M1183 343.5h1M1184 344.5h1M1185 345.5h1M1186 346.5h1M1187 347.5h1M1188 348.5h1M1189 349.5h1M1190 350.5h1M1191 351.5h1M1192 352.5h1M1193 353.5h2M1195 354.5h1M1196 355.5h1M1197 356.5h4M1201 357.5h5M1206 358.5h1M1207 359.5h1M1208 360.5h1M1209.5 361v2M1210 363.5h1M1211 364.5h1M1212 365.5h1M1213.5 366v2M1214.5 368v2M1215.5 370v2M1216.5 372v2M1217.5 374v3M1218.5 377v2M1219.5 379v2M1220.5 381v2M1221.5 383v2M1222.5 385v2M1223.5 387v2M1224.5 389v2M1225 391.5h1M1226.5 392v2M1485 392.5h1M1483 393.5h2M1227.5 394v2M1397 394.5h2M1482 394.5h1M1396 395.5h1M1399 395.5h4M1480 395.5h2M1228.5 396v2M1395 396.5h1M1403 396.5h3M1478 396.5h2M1394 397.5h1M1406 397.5h2M1476 397.5h2M1229 398.5h1M1393 398.5h1M1408 398.5h2M1472 398.5h4M1230.5 399v2M1392 399.5h1M1410 399.5h2M1469 399.5h3M1391 400.5h1M1412 400.5h2M1467 400.5h2M1231.5 401v2M1390 401.5h1M1414 401.5h2M1465 401.5h2M1389 402.5h1M1416 402.5h1M1463 402.5h2M1232.5 403v2M1387 403.5h2M1417 403.5h2M1460 403.5h3M1385 404.5h2M1419 404.5h2M1436 404.5h3M1456 404.5h4M1233.5 405v2M1383 405.5h2M1421 405.5h4M1432 405.5h4M1439 405.5h4M1450 405.5h6M1381 406.5h2M1425 406.5h7M1443 406.5h7M1234.5 407v2M1379 407.5h2M1378 408.5h1M1235.5 409v2M1376 409.5h2M1330 410.5h7M1374 410.5h2M1236.5 411v2M1324 411.5h6M1337 411.5h37M1322 412.5h2M1237.5 413v2M1319 413.5h3M1317 414.5h2M1238 415.5h1M1315 415.5h2M1239 416.5h2M1314 416.5h1M1241 417.5h1M1312 417.5h2M1242 418.5h1M1310 418.5h2M1243 419.5h2M1308 419.5h2M1245 420.5h2M1304 420.5h4M1247 421.5h2M1300 421.5h4M1249 422.5h3M1258 422.5h7M1296 422.5h4M1252 423.5h6M1265 423.5h6M1284 423.5h12M1271 424.5h4M1280 424.5h4M1275 425.5h5" fill="none" stroke="#3CB371" stroke-width="1" shape-rendering="crispEdges"/>
<g shape-rendering="crispEdges">
<rect x="5" y="183" width="1872" height="1" fill="#FF0000"/>
<rect x="5" y="221" width="1872" height="1" fill="#FF0000"/>
<rect x="5" y="278" width="1872" height="1" fill="#FF0000"/>
<rect x="5" y="314" width="1872" height="1" fill="#FF0000"/>
</g>
<g shape-rendering="crispEdges">
<rect x="5.5" y="181.5" width="4" height="4" fill="#FFF" stroke="#FF0000" stroke-width="1"/>
<rect x="1872.5" y="181.5" width="4" height="4" fill="#FFF" stroke="#FF0000" stroke-width="1"/>
<rect x="5.5" y="219.5" width="4" height="4" fill="#FFF" stroke="#FF0000" stroke-width="1"/>
<rect x="1872.5" y="219.5" width="4" height="4" fill="#FFF" stroke="#FF0000" stroke-width="1"/>
<rect x="5.5" y="276.5" width="4" height="4" fill="#FFF" stroke="#FF0000" stroke-width="1"/>
<rect x="1872.5" y="276.5" width="4" height="4" fill="#FFF" stroke="#FF0000" stroke-width="1"/>
<rect x="5.5" y="312.5" width="4" height="4" fill="#FFF" stroke="#FF0000" stroke-width="1"/>
<rect x="1872.5" y="312.5" width="4" height="4" fill="#FFF" stroke="#FF0000" stroke-width="1"/>
</g>
</g>
<g clip-path="url(#cs)">
<path d="M1484 528.5h2M1482 529.5h2M1479 530.5h3M1477 531.5h2M1476 532.5h1M1474 533.5h2M1473 534.5h1M1472 535.5h1M1470 536.5h2M1469 537.5h1M1468 538.5h1M1467 539.5h1M1466 540.5h1M1464 541.5h2M1463 542.5h1M1453 543.5h4M1462 543.5h1M1452 544.5h1M1457 544.5h5M1450 545.5h2M1449 546.5h1M1448 547.5h1M1446 548.5h2M1444 549.5h2M1442 550.5h2M1439 551.5h3M1437 552.5h2M1436 553.5h1M1435 554.5h1M1434 555.5h1M1433.5 556v2M1432 558.5h1M1431 559.5h1M1430 560.5h1M1429 561.5h1M1428 562.5h1M1427 563.5h1M1426 564.5h1M1425.5 565v2M917 566.5h1M915 567.5h2M918 567.5h1M1424 567.5h1M913 568.5h2M919 568.5h1M1423 568.5h1M692 569.5h21M911 569.5h2M920 569.5h1M1422 569.5h1M688 570.5h4M713 570.5h8M909 570.5h2M921 570.5h1M1421 570.5h1M684 571.5h4M721 571.5h6M907 571.5h2M922 571.5h1M1420.5 571v2M682 572.5h2M727 572.5h2M905 572.5h2M923 572.5h1M679 573.5h3M729 573.5h3M903 573.5h2M924 573.5h1M1419.5 573v2M677 574.5h2M732 574.5h2M901 574.5h2M925 574.5h1M676 575.5h1M734.5 575v2M899 575.5h2M926 575.5h1M1418.5 575v2M674 576.5h2M897 576.5h2M927.5 576v2M84 577.5h10M673 577.5h1M735.5 577v2M895 577.5h2M1417 577.5h1M80 578.5h4M93 578.5h1M672 578.5h1M893 578.5h2M928 578.5h1M1416.5 578v2M77 579.5h3M94.5 579v3M670 579.5h2M736.5 579v2M892 579.5h1M929 579.5h1M75 580.5h2M669 580.5h1M891 580.5h1M930 580.5h1M1415.5 580v2M74 581.5h1M325 581.5h4M668 581.5h1M737.5 581v2M890 581.5h1M931.5 581v2M72 582.5h2M95.5 582v3M323 582.5h2M329 582.5h5M667 582.5h1M888 582.5h2M1414.5 582v2M70 583.5h2M321 583.5h2M333 583.5h1M666 583.5h1M738.5 583v2M887 583.5h1M932 583.5h1M69 584.5h1M319 584.5h2M334.5 584v2M665 584.5h1M886 584.5h1M933 584.5h1M1413.5 584v2M68 585.5h1M96.5 585v3M317 585.5h2M664 585.5h1M739.5 585v2M885 585.5h1M934.5 585v2M67.5 586v2M316 586.5h1M335.5 586v3M663 586.5h1M884 586.5h1M1412.5 586v2M315 587.5h1M662 587.5h1M740.5 587v2M883 587.5h1M935.5 587v2M66 588.5h1M97.5 588v3M314 588.5h1M661 588.5h1M882 588.5h1M1411.5 588v2M65 589.5h1M312 589.5h2M336.5 589v2M660.5 589v2M741 589.5h1M880 589.5h2M936.5 589v2M64 590.5h1M311 590.5h1M742 590.5h2M879 590.5h1M1410.5 590v2M63.5 591v2M98.5 591v3M310 591.5h1M337.5 591v3M659 591.5h1M744 591.5h2M878 591.5h1M937.5 591v2M309 592.5h1M658 592.5h1M746 592.5h2M868 592.5h10M1409.5 592v2M62 593.5h1M308 593.5h1M657.5 593v2M748 593.5h2M864 593.5h4M938.5 593v2M61 594.5h1M99.5 594v3M307.5 594v2M338.5 594v2M750.5 594v2M852 594.5h12M1408.5 594v2M60 595.5h1M656 595.5h1M850 595.5h2M939.5 595v2M59.5 596v2M306 596.5h1M339.5 596v3M655 596.5h1M751 596.5h1M847 596.5h3M1407.5 596v2M100.5 597v3M305 597.5h1M654.5 597v2M752.5 597v2M845 597.5h2M940.5 597v2M58 598.5h1M304 598.5h1M844 598.5h1M1406.5 598v2M57 599.5h1M303.5 599v2M340.5 599v2M653 599.5h1M753 599.5h1M843.5 599v2M941 599.5h1M56 600.5h1M101.5 600v3M652 600.5h1M754.5 600v2M942.5 600v2M1405.5 600v2M55.5 601v2M302 601.5h1M341.5 601v2M650 601.5h2M842 601.5h1M301 602.5h1M649 602.5h1M755 602.5h1M841 602.5h1M943 602.5h1M1404.5 602v2M54 603.5h1M102.5 603v4M300.5 603v2M342.5 603v2M648 603.5h1M756.5 603v2M826 603.5h4M840 603.5h1M944 603.5h1M53.5 604v2M646 604.5h2M820 604.5h6M830 604.5h2M839.5 604v2M945.5 604v2M1403.5 604v2M299.5 605v2M343.5 605v2M645 605.5h1M757 605.5h1M816 605.5h4M832 605.5h2M52.5 606v2M644 606.5h1M758 606.5h1M812 606.5h4M834 606.5h2M838 606.5h1M946 606.5h1M1402.5 606v2M103.5 607v4M298.5 607v2M344 607.5h1M643.5 607v2M759 607.5h1M786 607.5h13M810 607.5h2M836 607.5h2M947 607.5h1M51.5 608v2M345.5 608v2M760 608.5h1M781 608.5h5M799 608.5h4M807 608.5h3M948.5 608v2M1401 608.5h1M297 609.5h1M642 609.5h1M761 609.5h1M780 609.5h1M803 609.5h4M1400.5 609v2M50.5 610v2M296.5 610v2M346 610.5h1M641 610.5h1M762 610.5h1M779 610.5h1M949 610.5h1M104.5 611v3M253 611.5h10M347.5 611v2M640 611.5h1M763 611.5h1M778 611.5h1M950 611.5h1M1399.5 611v2M49.5 612v2M251 612.5h2M263 612.5h4M295.5 612v2M639.5 612v2M764 612.5h1M777 612.5h1M951.5 612v2M250 613.5h1M267 613.5h3M348.5 613v2M765 613.5h2M776 613.5h1M1398.5 613v2M48.5 614v2M105.5 614v4M248 614.5h2M270 614.5h2M294.5 614v2M638 614.5h1M767 614.5h2M775 614.5h1M952 614.5h1M246 615.5h2M272 615.5h1M284 615.5h5M349 615.5h1M637 615.5h1M769 615.5h3M774 615.5h1M953 615.5h1M1397 615.5h1M47.5 616v2M245 616.5h1M273 616.5h2M282 616.5h2M289 616.5h5M350 616.5h1M636.5 616v2M772 616.5h2M954 616.5h1M1396.5 616v2M243 617.5h2M275 617.5h2M279 617.5h3M351 617.5h2M955.5 617v2M46.5 618v2M106.5 618v3M242 618.5h1M277 618.5h2M353 618.5h1M635 618.5h1M1395.5 618v2M240 619.5h2M354 619.5h1M634 619.5h1M956 619.5h1M45.5 620v2M238 620.5h2M355 620.5h2M633.5 620v2M957 620.5h1M1394 620.5h1M107.5 621v4M237 621.5h1M357 621.5h1M958 621.5h1M1393.5 621v2M44 622.5h1M236 622.5h1M358 622.5h2M632 622.5h1M959.5 622v2M43 623.5h1M235 623.5h1M360 623.5h1M631 623.5h1M1392 623.5h1M42 624.5h1M213 624.5h2M234 624.5h1M361 624.5h2M630.5 624v2M960 624.5h1M1391.5 624v2M41.5 625v2M108.5 625v4M211 625.5h2M215 625.5h2M233 625.5h1M363 625.5h2M386 625.5h4M961 625.5h1M209 626.5h2M217 626.5h3M232 626.5h1M365 626.5h2M380 626.5h6M390 626.5h1M629 626.5h1M962 626.5h1M1390.5 626v2M40 627.5h1M207 627.5h2M220 627.5h3M231 627.5h1M367 627.5h2M378 627.5h2M391 627.5h1M627 627.5h2M963.5 627v2M39 628.5h1M205 628.5h2M223 628.5h4M230 628.5h1M369 628.5h3M375 628.5h3M392 628.5h1M626 628.5h1M1389 628.5h1M38 629.5h1M109.5 629v3M204 629.5h1M227 629.5h3M372 629.5h3M393.5 629v2M624 629.5h2M964 629.5h1M1388.5 629v2M26 630.5h12M203.5 630v2M622 630.5h2M965 630.5h2M20 631.5h6M394 631.5h1M621 631.5h1M967 631.5h4M1387.5 631v2M18 632.5h2M110.5 632v3M202 632.5h1M395 632.5h1M620.5 632v2M971 632.5h3M15 633.5h3M201 633.5h1M396 633.5h1M974 633.5h1M1386 633.5h1M13 634.5h2M200 634.5h1M397 634.5h1M619 634.5h1M975.5 634v2M1385.5 634v2M11 635.5h2M111.5 635v3M199.5 635v2M398.5 635v2M618.5 635v2M9 636.5h2M976 636.5h1M1384 636.5h1M7 637.5h2M198 637.5h1M399 637.5h1M617 637.5h1M977 637.5h1M1383.5 637v2M5 638.5h2M112.5 638v3M197 638.5h1M400 638.5h1M616.5 638v2M978 638.5h1M196 639.5h1M401.5 639v2M979.5 639v2M1382.5 639v2M195 640.5h1M615 640.5h1M113.5 641v2M194 641.5h1M402 641.5h1M614.5 641v2M980 641.5h1M1381 641.5h1M193.5 642v2M403 642.5h1M981 642.5h1M1380 642.5h1M114.5 643v3M404.5 643v2M613 643.5h1M982 643.5h1M1379 643.5h1M192 644.5h1M611 644.5h2M983.5 644v2M1378 644.5h1M191 645.5h1M405 645.5h1M609 645.5h2M1376 645.5h2M115.5 646v3M190 646.5h1M406.5 646v2M607 646.5h2M984 646.5h1M1375 646.5h1M189.5 647v2M605 647.5h2M985 647.5h1M1374 647.5h1M407.5 648v2M604 648.5h1M986 648.5h1M1373 648.5h1M116.5 649v3M188.5 649v2M602 649.5h2M987.5 649v2M1372.5 649v2M408.5 650v2M601 650.5h1M187.5 651v2M600 651.5h1M988 651.5h1M1371 651.5h1M117.5 652v3M409.5 652v2M598 652.5h2M989 652.5h1M1370 652.5h1M186.5 653v3M597 653.5h1M990 653.5h1M1369.5 653v2M410.5 654v2M596 654.5h1M991 654.5h1M118.5 655v2M595 655.5h1M992 655.5h1M1368 655.5h1M185.5 656v2M411.5 656v2M594 656.5h1M993 656.5h2M1367 656.5h1M119.5 657v2M593 657.5h1M995 657.5h1M1052 657.5h3M1366.5 657v2M184.5 658v3M412.5 658v2M525 658.5h1M592 658.5h1M996 658.5h1M1050 658.5h2M1055 658.5h2M120.5 659v2M524 659.5h1M526.5 659v2M591 659.5h1M997 659.5h1M1047 659.5h3M1057 659.5h3M1365 659.5h1M413.5 660v2M523 660.5h1M590 660.5h1M998 660.5h2M1045 660.5h2M1060 660.5h2M1364 660.5h1M121.5 661v2M183.5 661v2M522 661.5h1M527.5 661v2M589 661.5h1M1000 661.5h2M1044 661.5h1M1062.5 661v2M1363 661.5h1M414.5 662v2M520 662.5h2M588 662.5h1M1002 662.5h2M1043.5 662v2M1362 662.5h1M122.5 663v2M182.5 663v2M519 663.5h1M528.5 663v2M587 663.5h1M1004 663.5h5M1018 663.5h4M1063.5 663v2M1361.5 663v2M415 664.5h1M518 664.5h1M586 664.5h1M1009 664.5h9M1022 664.5h1M1042 664.5h1M123.5 665v2M181.5 665v2M416.5 665v2M516 665.5h2M529.5 665v2M585 665.5h1M1023 665.5h1M1041 665.5h1M1064 665.5h1M1360 665.5h1M514 666.5h2M584 666.5h1M1024 666.5h1M1040 666.5h1M1065.5 666v2M1359 666.5h1M124.5 667v2M180 667.5h1M417 667.5h1M511 667.5h3M530.5 667v2M583 667.5h1M1025 667.5h1M1039.5 667v2M1358 667.5h1M179 668.5h1M418.5 668v2M509 668.5h2M582 668.5h1M1026 668.5h1M1066 668.5h1M1357 668.5h1M125.5 669v2M178 669.5h1M508 669.5h1M531.5 669v2M570 669.5h12M1027 669.5h1M1038 669.5h1M1067.5 669v2M1355 669.5h2M177 670.5h1M419 670.5h1M507.5 670v2M564 670.5h6M1028 670.5h1M1034 670.5h4M1353 670.5h2M126.5 671v2M176 671.5h1M420.5 671v2M532.5 671v2M560 671.5h4M1029 671.5h5M1068.5 671v2M1351 671.5h2M175 672.5h1M506 672.5h1M556 672.5h4M1348 672.5h3M127 673.5h1M174 673.5h1M421.5 673v2M505 673.5h1M533 673.5h2M554 673.5h2M1069 673.5h1M1325 673.5h4M1344 673.5h4M128 674.5h1M173.5 674v2M504 674.5h1M535 674.5h2M551 674.5h3M1070.5 674v2M1323 674.5h2M1329 674.5h15M129.5 675v2M422.5 675v2M503.5 675v2M537 675.5h3M546 675.5h5M1321 675.5h2M172.5 676v2M540 676.5h6M1071 676.5h1M1319 676.5h2M130 677.5h1M423.5 677v2M502 677.5h1M1072 677.5h1M1317 677.5h2M131 678.5h1M171.5 678v2M501 678.5h1M1073.5 678v2M1316 678.5h1M132.5 679v2M424.5 679v2M500.5 679v2M1315 679.5h1M170.5 680v3M1074 680.5h1M1157 680.5h2M1314 680.5h1M133 681.5h1M425.5 681v3M499.5 681v2M1075 681.5h1M1155 681.5h2M1159 681.5h4M1313.5 681v2M134 682.5h2M1076.5 682v2M1108 682.5h3M1153 682.5h2M1163 682.5h3M136 683.5h1M169.5 683v2M498 683.5h1M1106 683.5h2M1111 683.5h4M1151 683.5h2M1166 683.5h1M1312 683.5h1M137 684.5h2M426.5 684v2M497.5 684v2M1077 684.5h1M1103 684.5h3M1115 684.5h6M1149 684.5h2M1167 684.5h1M1311 684.5h1M139 685.5h2M168.5 685v3M1078 685.5h1M1101 685.5h2M1121 685.5h6M1147 685.5h2M1168 685.5h1M1301 685.5h4M1310 685.5h1M141 686.5h10M427.5 686v2M496 686.5h1M1079 686.5h1M1099 686.5h2M1127 686.5h4M1145 686.5h2M1169 686.5h2M1300 686.5h1M1305 686.5h5M151 687.5h2M495.5 687v2M1080 687.5h1M1097 687.5h2M1131 687.5h6M1143 687.5h2M1171 687.5h1M1299 687.5h1M153 688.5h3M167.5 688v2M428.5 688v2M1081 688.5h2M1095 688.5h2M1137 688.5h6M1172 688.5h1M1298 688.5h1M156 689.5h2M494.5 689v2M1083 689.5h1M1092 689.5h3M1173 689.5h1M1297 689.5h1M158 690.5h2M166.5 690v2M429.5 690v3M1084 690.5h1M1088 690.5h4M1174 690.5h1M1296 690.5h1M160 691.5h2M493.5 691v2M1085 691.5h3M1175.5 691v2M1295 691.5h1M162 692.5h2M165.5 692v2M1294 692.5h1M164 693.5h1M430.5 693v2M492.5 693v2M1176 693.5h1M1293 693.5h1M1177 694.5h1M1292 694.5h1M431.5 695v2M491.5 695v2M1178 695.5h1M1291.5 695v2M1179.5 696v2M432.5 697v2M490.5 697v2M1290 697.5h1M1180 698.5h1M1289 698.5h1M433.5 699v3M489.5 699v3M1181 699.5h1M1288 699.5h1M1182 700.5h2M1287.5 700v2M1184 701.5h1M434.5 702v2M488.5 702v2M1185 702.5h2M1286 702.5h1M1187 703.5h2M1285.5 703v2M435.5 704v2M487.5 704v2M1189 704.5h1M1190 705.5h2M1284.5 705v2M436.5 706v2M486.5 706v2M1192 706.5h1M1193 707.5h2M1283.5 707v2M437.5 708v2M485.5 708v2M1195 708.5h2M1197 709.5h2M1282.5 709v2M438 710.5h2M483 710.5h2M1199 710.5h2M440 711.5h1M469 711.5h2M481 711.5h2M1201 711.5h3M1281.5 711v2M441 712.5h2M467 712.5h2M471 712.5h4M479 712.5h2M1204 712.5h2M443 713.5h2M466 713.5h1M475 713.5h4M1206.5 713v2M1280.5 713v2M445 714.5h2M464 714.5h2M447 715.5h4M462 715.5h2M1207 715.5h1M1279.5 715v2M451 716.5h11M1208 716.5h1M1209.5 717v2M1278.5 717v2M1210 719.5h1M1277 719.5h1M1211 720.5h1M1275 720.5h2M1212.5 721v2M1274 721.5h1M1272 722.5h2M1213 723.5h1M1270 723.5h2M1214.5 724v2M1269 724.5h1M1267 725.5h2M1215.5 726v2M1265 726.5h2M1263 727.5h2M1216.5 728v2M1261 728.5h2M1261 729.5h1M1217.5 730v2M1260.5 730v2M1218.5 732v2M1259.5 732v2M1219.5 734v2M1258.5 734v2M1220.5 736v2M1257.5 736v2M1221 738.5h1M1256.5 738v2M1222 739.5h1M1223 740.5h1M1255.5 740v2M1224 741.5h1M1225.5 742v2M1254.5 742v2M1226 744.5h1M1253 744.5h1M1227 745.5h1M1252 745.5h1M1228 746.5h1M1251 746.5h1M1229 747.5h1M1250 747.5h1M1230 748.5h1M1249.5 748v2M1231.5 749v2M1248 750.5h1M1232 751.5h1M1247 751.5h1M1233 752.5h1M1246 752.5h1M1234 753.5h1M1245 753.5h1M1235.5 754v2M1243 754.5h2M1241 755.5h2M1236 756.5h1M1239 756.5h2M1237 757.5h2" fill="none" stroke="#0000FF" stroke-width="1" shape-rendering="crispEdges"/>
<polyline points="5,645 13,642 21,640 29,638 37,637 45,633 53,630 61,626 69,620 77,614 85,607 93,601 101,597 109,597 117,600 125,606 133,616 141,628 149,640 157,654 165,665 173,674 181,678 189,678 197,674 205,669 213,663 221,656 229,649 237,642 245,635 253,629 261,625 269,621 277,620 285,619 293,618 301,615 309,611 317,608 325,604 333,601 341,599 349,599 357,599 365,600 373,603 381,608 389,612 397,618 405,625 413,632 421,638 429,648 437,657 445,667 453,676 461,686 469,694 477,700 485,705 493,708 501,706 509,702 517,697 525,690 533,685 541,682 549,677 557,673 565,670 573,669 581,669 589,669 597,668 605,666 613,662 621,657 629,652 637,646 645,638 653,629 661,620 669,612 677,603 685,596 693,589 701,583 709,579 717,576 725,574 733,573 741,574 749,575 757,579 765,584 773,589 781,593 789,597 797,601 805,605 813,608 821,608 829,608 837,608 845,606 853,604 861,602 869,601 877,599 885,597 893,594 901,591 909,586 917,583 925,581 933,580 941,580 949,583 957,588 965,594 973,600 981,608 989,617 997,627 1005,636 1013,643 1021,648 1029,653 1037,657 1045,661 1053,662 1061,663 1069,665 1077,667 1085,671 1093,673 1101,675 1109,677 1117,679 1125,683 1133,684 1141,686 1149,686 1157,686 1165,685 1173,686 1181,686 1189,689 1197,691 1205,694 1213,698 1221,704 1229,714 1237,722 1245,728 1253,733 1261,735 1269,736 1277,737 1285,735 1293,731 1301,724 1309,716 1317,707 1325,699 1333,692 1341,686 1349,682 1357,678 1365,674 1373,670 1381,665 1389,659 1397,654 1405,645 1413,634 1421,624 1429,614 1437,601 1445,590 1453,580 1461,569 1469,560 1477,554 1485,547" fill="none" stroke="#FF0000" stroke-width="2" shape-rendering="crispEdges" stroke-linejoin="round"/>
<g shape-rendering="crispEdges">
<rect x="5" y="609" width="1" height="9" fill="#FF0000"/>
<rect x="13" y="609" width="1" height="9" fill="#FF0000"/>
<rect x="21" y="609" width="1" height="9" fill="#FF0000"/>
<rect x="29" y="609" width="1" height="9" fill="#FF0000"/>
<rect x="37" y="610" width="1" height="8" fill="#FF0000"/>
<rect x="45" y="604" width="1" height="14" fill="#FF0000"/>
<rect x="53" y="589" width="1" height="29" fill="#FF0000"/>
<rect x="61" y="578" width="1" height="40" fill="#FF0000"/>
<rect x="69" y="573" width="1" height="45" fill="#FF0000"/>
<rect x="77" y="575" width="1" height="43" fill="#FF0000"/>
<rect x="85" y="580" width="1" height="38" fill="#FF0000"/>
<rect x="93" y="589" width="1" height="29" fill="#FF0000"/>
<rect x="101" y="617" width="1" height="5" fill="#008000"/>
<rect x="109" y="617" width="1" height="44" fill="#008000"/>
<rect x="117" y="617" width="1" height="68" fill="#008000"/>
<rect x="125" y="617" width="1" height="82" fill="#008000"/>
<rect x="133" y="617" width="1" height="84" fill="#008000"/>
<rect x="141" y="617" width="1" height="75" fill="#008000"/>
<rect x="149" y="617" width="1" height="59" fill="#008000"/>
<rect x="157" y="617" width="1" height="48" fill="#008000"/>
<rect x="165" y="617" width="1" height="36" fill="#008000"/>
<rect x="173" y="617" width="1" height="2" fill="#008000"/>
<rect x="181" y="604" width="1" height="14" fill="#FF0000"/>
<rect x="189" y="580" width="1" height="38" fill="#FF0000"/>
<rect x="197" y="571" width="1" height="47" fill="#FF0000"/>
<rect x="205" y="567" width="1" height="51" fill="#FF0000"/>
<rect x="213" y="570" width="1" height="48" fill="#FF0000"/>
<rect x="221" y="582" width="1" height="36" fill="#FF0000"/>
<rect x="229" y="594" width="1" height="24" fill="#FF0000"/>
<rect x="237" y="594" width="1" height="24" fill="#FF0000"/>
<rect x="245" y="596" width="1" height="22" fill="#FF0000"/>
<rect x="253" y="598" width="1" height="20" fill="#FF0000"/>
<rect x="261" y="604" width="1" height="14" fill="#FF0000"/>
<rect x="269" y="610" width="1" height="8" fill="#FF0000"/>
<rect x="277" y="616" width="1" height="2" fill="#FF0000"/>
<rect x="285" y="613" width="1" height="5" fill="#FF0000"/>
<rect x="293" y="616" width="1" height="2" fill="#FF0000"/>
<rect x="301" y="602" width="1" height="16" fill="#FF0000"/>
<rect x="309" y="593" width="1" height="25" fill="#FF0000"/>
<rect x="317" y="588" width="1" height="30" fill="#FF0000"/>
<rect x="325" y="588" width="1" height="30" fill="#FF0000"/>
<rect x="333" y="594" width="1" height="24" fill="#FF0000"/>
<rect x="341" y="617" width="1" height="4" fill="#008000"/>
<rect x="349" y="617" width="1" height="20" fill="#008000"/>
<rect x="357" y="617" width="1" height="27" fill="#008000"/>
<rect x="365" y="617" width="1" height="33" fill="#008000"/>
<rect x="373" y="617" width="1" height="34" fill="#008000"/>
<rect x="381" y="617" width="1" height="25" fill="#008000"/>
<rect x="389" y="617" width="1" height="17" fill="#008000"/>
<rect x="397" y="617" width="1" height="23" fill="#008000"/>
<rect x="405" y="617" width="1" height="28" fill="#008000"/>
<rect x="413" y="617" width="1" height="40" fill="#008000"/>
<rect x="421" y="617" width="1" height="47" fill="#008000"/>
<rect x="429" y="617" width="1" height="62" fill="#008000"/>
<rect x="437" y="617" width="1" height="70" fill="#008000"/>
<rect x="445" y="617" width="1" height="64" fill="#008000"/>
<rect x="453" y="617" width="1" height="53" fill="#008000"/>
<rect x="461" y="617" width="1" height="40" fill="#008000"/>
<rect x="469" y="617" width="1" height="22" fill="#008000"/>
<rect x="477" y="617" width="1" height="16" fill="#008000"/>
<rect x="485" y="617" width="1" height="3" fill="#008000"/>
<rect x="493" y="598" width="1" height="20" fill="#FF0000"/>
<rect x="501" y="582" width="1" height="36" fill="#FF0000"/>
<rect x="509" y="575" width="1" height="43" fill="#FF0000"/>
<rect x="517" y="576" width="1" height="42" fill="#FF0000"/>
<rect x="525" y="577" width="1" height="41" fill="#FF0000"/>
<rect x="533" y="602" width="1" height="16" fill="#FF0000"/>
<rect x="541" y="611" width="1" height="7" fill="#FF0000"/>
<rect x="549" y="615" width="1" height="3" fill="#FF0000"/>
<rect x="557" y="615" width="1" height="3" fill="#FF0000"/>
<rect x="565" y="616" width="1" height="2" fill="#FF0000"/>
<rect x="573" y="616" width="1" height="2" fill="#FF0000"/>
<rect x="581" y="616" width="1" height="2" fill="#FF0000"/>
<rect x="589" y="609" width="1" height="9" fill="#FF0000"/>
<rect x="597" y="598" width="1" height="20" fill="#FF0000"/>
<rect x="605" y="595" width="1" height="23" fill="#FF0000"/>
<rect x="613" y="593" width="1" height="25" fill="#FF0000"/>
<rect x="621" y="586" width="1" height="32" fill="#FF0000"/>
<rect x="629" y="583" width="1" height="35" fill="#FF0000"/>
<rect x="637" y="576" width="1" height="42" fill="#FF0000"/>
<rect x="645" y="576" width="1" height="42" fill="#FF0000"/>
<rect x="653" y="576" width="1" height="42" fill="#FF0000"/>
<rect x="661" y="572" width="1" height="46" fill="#FF0000"/>
<rect x="669" y="574" width="1" height="44" fill="#FF0000"/>
<rect x="677" y="575" width="1" height="43" fill="#FF0000"/>
<rect x="685" y="582" width="1" height="36" fill="#FF0000"/>
<rect x="693" y="589" width="1" height="29" fill="#FF0000"/>
<rect x="701" y="597" width="1" height="21" fill="#FF0000"/>
<rect x="709" y="603" width="1" height="15" fill="#FF0000"/>
<rect x="717" y="610" width="1" height="8" fill="#FF0000"/>
<rect x="725" y="615" width="1" height="3" fill="#FF0000"/>
<rect x="733" y="617" width="1" height="2" fill="#008000"/>
<rect x="741" y="617" width="1" height="21" fill="#008000"/>
<rect x="749" y="617" width="1" height="24" fill="#008000"/>
<rect x="757" y="617" width="1" height="34" fill="#008000"/>
<rect x="765" y="617" width="1" height="38" fill="#008000"/>
<rect x="773" y="617" width="1" height="35" fill="#008000"/>
<rect x="781" y="617" width="1" height="20" fill="#008000"/>
<rect x="789" y="617" width="1" height="12" fill="#008000"/>
<rect x="797" y="617" width="1" height="7" fill="#008000"/>
<rect x="805" y="617" width="1" height="4" fill="#008000"/>
<rect x="821" y="612" width="1" height="6" fill="#FF0000"/>
<rect x="829" y="611" width="1" height="7" fill="#FF0000"/>
<rect x="837" y="617" width="1" height="1" fill="#008000"/>
<rect x="845" y="609" width="1" height="9" fill="#FF0000"/>
<rect x="853" y="605" width="1" height="13" fill="#FF0000"/>
<rect x="861" y="607" width="1" height="11" fill="#FF0000"/>
<rect x="869" y="607" width="1" height="11" fill="#FF0000"/>
<rect x="877" y="608" width="1" height="10" fill="#FF0000"/>
<rect x="885" y="603" width="1" height="15" fill="#FF0000"/>
<rect x="893" y="599" width="1" height="19" fill="#FF0000"/>
<rect x="901" y="597" width="1" height="21" fill="#FF0000"/>
<rect x="909" y="597" width="1" height="21" fill="#FF0000"/>
<rect x="917" y="597" width="1" height="21" fill="#FF0000"/>
<rect x="925" y="610" width="1" height="8" fill="#FF0000"/>
<rect x="933" y="617" width="1" height="6" fill="#008000"/>
<rect x="941" y="617" width="1" height="25" fill="#008000"/>
<rect x="949" y="617" width="1" height="38" fill="#008000"/>
<rect x="957" y="617" width="1" height="46" fill="#008000"/>
<rect x="965" y="617" width="1" height="50" fill="#008000"/>
<rect x="973" y="617" width="1" height="44" fill="#008000"/>
<rect x="981" y="617" width="1" height="45" fill="#008000"/>
<rect x="989" y="617" width="1" height="47" fill="#008000"/>
<rect x="997" y="617" width="1" height="42" fill="#008000"/>
<rect x="1005" y="617" width="1" height="36" fill="#008000"/>
<rect x="1013" y="617" width="1" height="29" fill="#008000"/>
<rect x="1021" y="617" width="1" height="20" fill="#008000"/>
<rect x="1029" y="617" width="1" height="24" fill="#008000"/>
<rect x="1037" y="617" width="1" height="17" fill="#008000"/>
<rect x="1045" y="617" width="1" height="1" fill="#008000"/>
<rect x="1053" y="611" width="1" height="7" fill="#FF0000"/>
<rect x="1061" y="616" width="1" height="2" fill="#FF0000"/>
<rect x="1069" y="617" width="1" height="10" fill="#008000"/>
<rect x="1077" y="617" width="1" height="22" fill="#008000"/>
<rect x="1085" y="617" width="1" height="27" fill="#008000"/>
<rect x="1093" y="617" width="1" height="21" fill="#008000"/>
<rect x="1101" y="617" width="1" height="13" fill="#008000"/>
<rect x="1109" y="617" width="1" height="8" fill="#008000"/>
<rect x="1117" y="617" width="1" height="7" fill="#008000"/>
<rect x="1125" y="617" width="1" height="5" fill="#008000"/>
<rect x="1133" y="617" width="1" height="3" fill="#008000"/>
<rect x="1141" y="617" width="1" height="2" fill="#008000"/>
<rect x="1149" y="615" width="1" height="3" fill="#FF0000"/>
<rect x="1157" y="612" width="1" height="6" fill="#FF0000"/>
<rect x="1165" y="616" width="1" height="2" fill="#FF0000"/>
<rect x="1173" y="617" width="1" height="6" fill="#008000"/>
<rect x="1181" y="617" width="1" height="16" fill="#008000"/>
<rect x="1189" y="617" width="1" height="20" fill="#008000"/>
<rect x="1197" y="617" width="1" height="24" fill="#008000"/>
<rect x="1205" y="617" width="1" height="23" fill="#008000"/>
<rect x="1213" y="617" width="1" height="32" fill="#008000"/>
<rect x="1221" y="617" width="1" height="44" fill="#008000"/>
<rect x="1229" y="617" width="1" height="46" fill="#008000"/>
<rect x="1237" y="617" width="1" height="49" fill="#008000"/>
<rect x="1245" y="617" width="1" height="33" fill="#008000"/>
<rect x="1253" y="617" width="1" height="16" fill="#008000"/>
<rect x="1261" y="611" width="1" height="7" fill="#FF0000"/>
<rect x="1269" y="602" width="1" height="16" fill="#FF0000"/>
<rect x="1277" y="594" width="1" height="24" fill="#FF0000"/>
<rect x="1285" y="575" width="1" height="43" fill="#FF0000"/>
<rect x="1293" y="572" width="1" height="46" fill="#FF0000"/>
<rect x="1301" y="569" width="1" height="49" fill="#FF0000"/>
<rect x="1309" y="580" width="1" height="38" fill="#FF0000"/>
<rect x="1317" y="579" width="1" height="39" fill="#FF0000"/>
<rect x="1325" y="585" width="1" height="33" fill="#FF0000"/>
<rect x="1333" y="593" width="1" height="25" fill="#FF0000"/>
<rect x="1341" y="601" width="1" height="17" fill="#FF0000"/>
<rect x="1349" y="606" width="1" height="12" fill="#FF0000"/>
<rect x="1357" y="606" width="1" height="12" fill="#FF0000"/>
<rect x="1365" y="598" width="1" height="20" fill="#FF0000"/>
<rect x="1373" y="589" width="1" height="29" fill="#FF0000"/>
<rect x="1381" y="587" width="1" height="31" fill="#FF0000"/>
<rect x="1389" y="577" width="1" height="41" fill="#FF0000"/>
<rect x="1397" y="568" width="1" height="50" fill="#FF0000"/>
<rect x="1405" y="561" width="1" height="57" fill="#FF0000"/>
<rect x="1413" y="553" width="1" height="65" fill="#FF0000"/>
<rect x="1421" y="549" width="1" height="69" fill="#FF0000"/>
<rect x="1429" y="551" width="1" height="67" fill="#FF0000"/>
<rect x="1437" y="557" width="1" height="61" fill="#FF0000"/>
<rect x="1445" y="566" width="1" height="52" fill="#FF0000"/>
<rect x="1453" y="572" width="1" height="46" fill="#FF0000"/>
<rect x="1461" y="585" width="1" height="33" fill="#FF0000"/>
<rect x="1469" y="588" width="1" height="30" fill="#FF0000"/>
<rect x="1477" y="591" width="1" height="27" fill="#FF0000"/>
<rect x="1485" y="594" width="1" height="24" fill="#FF0000"/>
</g>
</g>
<g shape-rendering="crispEdges">
<rect x="1878" y="15" width="2" height="1" fill="#000"/>
<rect x="1878" y="48" width="2" height="1" fill="#000"/>
<rect x="1878" y="81" width="2" height="1" fill="#000"/>
<rect x="1878" y="114" width="2" height="1" fill="#000"/>
<rect x="1878" y="147" width="2" height="1" fill="#000"/>
<rect x="1878" y="180" width="2" height="1" fill="#000"/>
<rect x="1878" y="213" width="2" height="1" fill="#000"/>
<rect x="1878" y="345" width="2" height="1" fill="#000"/>
<rect x="1878" y="378" width="2" height="1" fill="#000"/>
<rect x="1878" y="411" width="2" height="1" fill="#000"/>
<rect x="1878" y="444" width="2" height="1" fill="#000"/>
<rect x="1878" y="477" width="2" height="1" fill="#000"/>
<rect x="1878" y="510" width="2" height="1" fill="#000"/>
<rect x="1878" y="246" width="1" height="1" fill="#000"/>
<rect x="1878" y="279" width="1" height="1" fill="#000"/>
<rect x="1878" y="312" width="1" height="1" fill="#000"/>
<rect x="1878" y="517" width="1" height="1" fill="#000"/>
<rect x="1878" y="617" width="1" height="1" fill="#000"/>
<rect x="1878" y="768" width="1" height="1" fill="#000"/>
</g>
<text x="1883" y="19" textLength="28" lengthAdjust="spacing">62.980</text>
<text x="1883" y="52" textLength="28" lengthAdjust="spacing">62.320</text>
<text x="1883" y="85" textLength="28" lengthAdjust="spacing">61.660</text>
<text x="1883" y="118" textLength="28" lengthAdjust="spacing">61.000</text>
<text x="1883" y="151" textLength="28" lengthAdjust="spacing">60.340</text>
<text x="1883" y="217" textLength="28" lengthAdjust="spacing">59.020</text>
<text x="1883" y="349" textLength="28" lengthAdjust="spacing">56.395</text>
<text x="1883" y="382" textLength="28" lengthAdjust="spacing">55.735</text>
<text x="1883" y="415" textLength="28" lengthAdjust="spacing">55.075</text>
<text x="1883" y="448" textLength="28" lengthAdjust="spacing">54.415</text>
<text x="1883" y="481" textLength="28" lengthAdjust="spacing">53.755</text>
<text x="1883" y="514" textLength="28" lengthAdjust="spacing">53.095</text>
<text x="1881" y="526" textLength="28" lengthAdjust="spacing">0.5363</text>
<text x="1881" y="621" textLength="18" lengthAdjust="spacing">0.00</text>
<text x="1881" y="766" textLength="32" lengthAdjust="spacing">-0.8068</text>
<g shape-rendering="crispEdges">
<rect x="1879" y="177" width="33" height="11" fill="#FF0000"/>
<rect x="1879" y="215" width="33" height="11" fill="#FF0000"/>
<rect x="1879" y="272" width="33" height="11" fill="#FF0000"/>
<rect x="1879" y="308" width="33" height="11" fill="#FF0000"/>
<rect x="1879" y="242" width="33" height="11" fill="#000"/>
<rect x="1877" y="247" width="3" height="1" fill="#000"/>
</g>
<text x="1883" y="187" textLength="28" lengthAdjust="spacing" style="fill:#FFF;stroke:#FFF">59.623</text>
<text x="1883" y="225" textLength="28" lengthAdjust="spacing" style="fill:#FFF;stroke:#FFF">58.860</text>
<text x="1883" y="282" textLength="28" lengthAdjust="spacing" style="fill:#FFF;stroke:#FFF">57.722</text>
<text x="1883" y="318" textLength="28" lengthAdjust="spacing" style="fill:#FFF;stroke:#FFF">57.012</text>
<text x="1883" y="251" textLength="28" lengthAdjust="spacing" style="fill:#FFF;stroke:#FFF">58.348</text>
<g shape-rendering="crispEdges">
<rect x="8" y="11" width="7" height="1" fill="#000"/>
<rect x="9" y="12" width="5" height="1" fill="#000"/>
<rect x="10" y="13" width="3" height="1" fill="#000"/>
<rect x="11" y="14" width="1" height="1" fill="#000"/>
<rect x="1497" y="5" width="9" height="1" fill="#000"/>
<rect x="1498" y="6" width="7" height="1" fill="#000"/>
<rect x="1499" y="7" width="5" height="1" fill="#000"/>
<rect x="1500" y="8" width="3" height="1" fill="#000"/>
<rect x="1501" y="9" width="1" height="1" fill="#000"/>
</g>
<text x="20" y="16" textLength="56" lengthAdjust="spacing">USOUSD,H4</text>
<text x="82" y="16" textLength="28" lengthAdjust="spacing">58.287</text>
<text x="113" y="16" textLength="28" lengthAdjust="spacing">58.518</text>
<text x="144" y="16" textLength="28" lengthAdjust="spacing">58.243</text>
<text x="175" y="16" textLength="28" lengthAdjust="spacing">58.348</text>
<text x="9" y="528" textLength="66" lengthAdjust="spacing">MACD(12,26,9)</text>
<text x="78" y="528" textLength="28" lengthAdjust="spacing">0.4753</text>
<text x="109" y="528" textLength="28" lengthAdjust="spacing">0.3772</text>
<text x="140" y="528" textLength="28" lengthAdjust="spacing">0.1275</text>
<text x="171" y="528" textLength="28" lengthAdjust="spacing">0.0000</text>
<g shape-rendering="crispEdges">
<rect x="5" y="770" width="1" height="3" fill="#000"/>
<rect x="69" y="770" width="1" height="3" fill="#000"/>
<rect x="133" y="770" width="1" height="3" fill="#000"/>
<rect x="197" y="770" width="1" height="3" fill="#000"/>
<rect x="261" y="770" width="1" height="3" fill="#000"/>
<rect x="325" y="770" width="1" height="3" fill="#000"/>
<rect x="389" y="770" width="1" height="3" fill="#000"/>
<rect x="453" y="770" width="1" height="3" fill="#000"/>
<rect x="517" y="770" width="1" height="3" fill="#000"/>
<rect x="581" y="770" width="1" height="3" fill="#000"/>
<rect x="645" y="770" width="1" height="3" fill="#000"/>
<rect x="709" y="770" width="1" height="3" fill="#000"/>
<rect x="773" y="770" width="1" height="3" fill="#000"/>
<rect x="837" y="770" width="1" height="3" fill="#000"/>
<rect x="901" y="770" width="1" height="3" fill="#000"/>
<rect x="965" y="770" width="1" height="3" fill="#000"/>
<rect x="1029" y="770" width="1" height="3" fill="#000"/>
<rect x="1093" y="770" width="1" height="3" fill="#000"/>
<rect x="1157" y="770" width="1" height="3" fill="#000"/>
<rect x="1221" y="770" width="1" height="3" fill="#000"/>
<rect x="1285" y="770" width="1" height="3" fill="#000"/>
<rect x="1349" y="770" width="1" height="3" fill="#000"/>
<rect x="1413" y="770" width="1" height="3" fill="#000"/>
<rect x="1477" y="770" width="1" height="3" fill="#000"/>
</g>
<text x="4.5" y="782" textLength="53" lengthAdjust="spacing">10 Nov 2025</text>
<text x="68.5" y="782" textLength="56.5" lengthAdjust="spacing">11 Nov 21:00</text>
<text x="132.5" y="782" textLength="56.5" lengthAdjust="spacing">13 Nov 05:00</text>
<text x="196.5" y="782" textLength="56.5" lengthAdjust="spacing">14 Nov 13:00</text>
<text x="260.5" y="782" textLength="56.5" lengthAdjust="spacing">17 Nov 21:00</text>
<text x="324.5" y="782" textLength="56.5" lengthAdjust="spacing">19 Nov 05:00</text>
<text x="388.5" y="782" textLength="56.5" lengthAdjust="spacing">20 Nov 13:00</text>
<text x="452.5" y="782" textLength="56.5" lengthAdjust="spacing">21 Nov 21:00</text>
<text x="516.5" y="782" textLength="56.5" lengthAdjust="spacing">25 Nov 05:00</text>
<text x="580.5" y="782" textLength="56.5" lengthAdjust="spacing">26 Nov 13:00</text>
<text x="644.5" y="782" textLength="56.5" lengthAdjust="spacing">28 Nov 01:00</text>
<text x="708.5" y="782" textLength="50.5" lengthAdjust="spacing">1 Dec 21:00</text>
<text x="772.5" y="782" textLength="50.5" lengthAdjust="spacing">3 Dec 05:00</text>
<text x="836.5" y="782" textLength="50.5" lengthAdjust="spacing">4 Dec 13:00</text>
<text x="900.5" y="782" textLength="50.5" lengthAdjust="spacing">5 Dec 21:00</text>
<text x="964.5" y="782" textLength="50.5" lengthAdjust="spacing">9 Dec 05:00</text>
<text x="1028.5" y="782" textLength="56.5" lengthAdjust="spacing">10 Dec 13:00</text>
<text x="1092.5" y="782" textLength="56.5" lengthAdjust="spacing">11 Dec 21:00</text>
<text x="1156.5" y="782" textLength="56.5" lengthAdjust="spacing">15 Dec 05:00</text>
<text x="1220.5" y="782" textLength="56.5" lengthAdjust="spacing">16 Dec 13:00</text>
<text x="1284.5" y="782" textLength="56.5" lengthAdjust="spacing">17 Dec 21:00</text>
<text x="1348.5" y="782" textLength="56.5" lengthAdjust="spacing">19 Dec 05:00</text>
<text x="1412.5" y="782" textLength="56.5" lengthAdjust="spacing">22 Dec 13:00</text>
<text x="1476.5" y="782" textLength="56.5" lengthAdjust="spacing">23 Dec 21:00</text>
</svg></body></html>
